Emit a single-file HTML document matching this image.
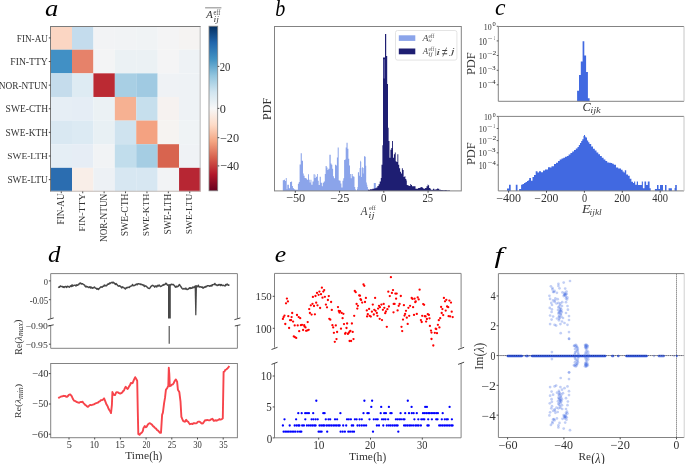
<!DOCTYPE html><html><head><meta charset="utf-8"><style>html,body{margin:0;padding:0;background:#fff;}svg{display:block;will-change:transform;}</style></head><body><svg width="685" height="464" viewBox="0 0 685 464" font-family='"Liberation Serif", serif'><g id="gfx"><rect x="50.6" y="26.1" width="21.46" height="23.67" fill="#fbd6c3" />
<rect x="72.01" y="26.1" width="21.46" height="23.67" fill="#c4dced" />
<rect x="93.42" y="26.1" width="21.46" height="23.67" fill="#f2f3f5" />
<rect x="114.83" y="26.1" width="21.46" height="23.67" fill="#f1f3f5" />
<rect x="136.24" y="26.1" width="21.46" height="23.67" fill="#f0f3f5" />
<rect x="157.65" y="26.1" width="21.46" height="23.67" fill="#f4f4f5" />
<rect x="179.06" y="26.1" width="21.46" height="23.67" fill="#f5f3f2" />
<rect x="50.6" y="49.72" width="21.46" height="23.67" fill="#4190c5" />
<rect x="72.01" y="49.72" width="21.46" height="23.67" fill="#e6826a" />
<rect x="93.42" y="49.72" width="21.46" height="23.67" fill="#f3f4f5" />
<rect x="114.83" y="49.72" width="21.46" height="23.67" fill="#ebf1f4" />
<rect x="136.24" y="49.72" width="21.46" height="23.67" fill="#ebf1f4" />
<rect x="157.65" y="49.72" width="21.46" height="23.67" fill="#f4f4f5" />
<rect x="179.06" y="49.72" width="21.46" height="23.67" fill="#eef2f5" />
<rect x="50.6" y="73.34" width="21.46" height="23.67" fill="#c5dcec" />
<rect x="72.01" y="73.34" width="21.46" height="23.67" fill="#deebf3" />
<rect x="93.42" y="73.34" width="21.46" height="23.67" fill="#bb2a33" />
<rect x="114.83" y="73.34" width="21.46" height="23.67" fill="#a8cfe4" />
<rect x="136.24" y="73.34" width="21.46" height="23.67" fill="#a0cae2" />
<rect x="157.65" y="73.34" width="21.46" height="23.67" fill="#eff2f5" />
<rect x="179.06" y="73.34" width="21.46" height="23.67" fill="#eef2f5" />
<rect x="50.6" y="96.96" width="21.46" height="23.67" fill="#e6eef5" />
<rect x="72.01" y="96.96" width="21.46" height="23.67" fill="#e5edf5" />
<rect x="93.42" y="96.96" width="21.46" height="23.67" fill="#ebf1f4" />
<rect x="114.83" y="96.96" width="21.46" height="23.67" fill="#f6b192" />
<rect x="136.24" y="96.96" width="21.46" height="23.67" fill="#c6dfed" />
<rect x="157.65" y="96.96" width="21.46" height="23.67" fill="#f6f2f0" />
<rect x="179.06" y="96.96" width="21.46" height="23.67" fill="#eef2f5" />
<rect x="50.6" y="120.58" width="21.46" height="23.67" fill="#d9e8f2" />
<rect x="72.01" y="120.58" width="21.46" height="23.67" fill="#dceaf3" />
<rect x="93.42" y="120.58" width="21.46" height="23.67" fill="#e8f0f4" />
<rect x="114.83" y="120.58" width="21.46" height="23.67" fill="#cfe3ef" />
<rect x="136.24" y="120.58" width="21.46" height="23.67" fill="#f4a281" />
<rect x="157.65" y="120.58" width="21.46" height="23.67" fill="#f6f3f1" />
<rect x="179.06" y="120.58" width="21.46" height="23.67" fill="#eff3f5" />
<rect x="50.6" y="144.2" width="21.46" height="23.67" fill="#e5eef5" />
<rect x="72.01" y="144.2" width="21.46" height="23.67" fill="#e6edf5" />
<rect x="93.42" y="144.2" width="21.46" height="23.67" fill="#f1f3f5" />
<rect x="114.83" y="144.2" width="21.46" height="23.67" fill="#c1ddec" />
<rect x="136.24" y="144.2" width="21.46" height="23.67" fill="#a5cde3" />
<rect x="157.65" y="144.2" width="21.46" height="23.67" fill="#d8644f" />
<rect x="179.06" y="144.2" width="21.46" height="23.67" fill="#eff2f5" />
<rect x="50.6" y="167.82" width="21.46" height="23.67" fill="#2b6db0" />
<rect x="72.01" y="167.82" width="21.46" height="23.67" fill="#f9eee8" />
<rect x="93.42" y="167.82" width="21.46" height="23.67" fill="#edf1f5" />
<rect x="114.83" y="167.82" width="21.46" height="23.67" fill="#d7e7f2" />
<rect x="136.24" y="167.82" width="21.46" height="23.67" fill="#d7e7f2" />
<rect x="157.65" y="167.82" width="21.46" height="23.67" fill="#f2f3f5" />
<rect x="179.06" y="167.82" width="21.46" height="23.67" fill="#b72633" />
<line x1="200.17" y1="26" x2="200.17" y2="191.44" stroke="#bdbdbd" stroke-width="1" />
<line x1="50.5" y1="191.24" x2="200.47" y2="191.24" stroke="#c4bcb8" stroke-width="1" />
<line x1="50" y1="26.5" x2="200.47" y2="26.5" stroke="#7b7b7b" stroke-width="1" />
<line x1="50.5" y1="26" x2="50.5" y2="191.44" stroke="#7b7b7b" stroke-width="1" />
<line x1="48.8" y1="37.91" x2="50.6" y2="37.91" stroke="#3a3a3a" stroke-width="0.9" />
<line x1="48.8" y1="61.53" x2="50.6" y2="61.53" stroke="#3a3a3a" stroke-width="0.9" />
<line x1="48.8" y1="85.15" x2="50.6" y2="85.15" stroke="#3a3a3a" stroke-width="0.9" />
<line x1="48.8" y1="108.77" x2="50.6" y2="108.77" stroke="#3a3a3a" stroke-width="0.9" />
<line x1="48.8" y1="132.39" x2="50.6" y2="132.39" stroke="#3a3a3a" stroke-width="0.9" />
<line x1="48.8" y1="156.01" x2="50.6" y2="156.01" stroke="#3a3a3a" stroke-width="0.9" />
<line x1="48.8" y1="179.63" x2="50.6" y2="179.63" stroke="#3a3a3a" stroke-width="0.9" />
<line x1="61.3" y1="191.44" x2="61.3" y2="193.24" stroke="#3a3a3a" stroke-width="0.9" />
<line x1="82.72" y1="191.44" x2="82.72" y2="193.24" stroke="#3a3a3a" stroke-width="0.9" />
<line x1="104.12" y1="191.44" x2="104.12" y2="193.24" stroke="#3a3a3a" stroke-width="0.9" />
<line x1="125.53" y1="191.44" x2="125.53" y2="193.24" stroke="#3a3a3a" stroke-width="0.9" />
<line x1="146.94" y1="191.44" x2="146.94" y2="193.24" stroke="#3a3a3a" stroke-width="0.9" />
<line x1="168.35" y1="191.44" x2="168.35" y2="193.24" stroke="#3a3a3a" stroke-width="0.9" />
<line x1="189.76" y1="191.44" x2="189.76" y2="193.24" stroke="#3a3a3a" stroke-width="0.9" />
<defs><linearGradient id="rdbu" x1="0" y1="0" x2="0" y2="1"><stop offset="0.0" stop-color="#053061"/><stop offset="0.1" stop-color="#2166ac"/><stop offset="0.2" stop-color="#4393c3"/><stop offset="0.3" stop-color="#92c5de"/><stop offset="0.4" stop-color="#d1e5f0"/><stop offset="0.5" stop-color="#f7f7f7"/><stop offset="0.6" stop-color="#fddbc7"/><stop offset="0.7" stop-color="#f4a582"/><stop offset="0.8" stop-color="#d6604d"/><stop offset="0.9" stop-color="#b2182b"/><stop offset="1.0" stop-color="#67001f"/></linearGradient></defs>
<rect x="209" y="26.2" width="8.7" height="164.6" fill="url(#rdbu)" />
<rect x="209" y="26.2" width="8.7" height="164.6" fill="none" stroke="#838383" stroke-width="0.8"/>
<line x1="217.7" y1="66.4" x2="219.3" y2="66.4" stroke="#3a3a3a" stroke-width="0.9" />
<line x1="217.7" y1="108.4" x2="219.3" y2="108.4" stroke="#3a3a3a" stroke-width="0.9" />
<line x1="217.7" y1="137.7" x2="219.3" y2="137.7" stroke="#3a3a3a" stroke-width="0.9" />
<line x1="217.7" y1="165.9" x2="219.3" y2="165.9" stroke="#3a3a3a" stroke-width="0.9" />
<line x1="205.1" y1="7.8" x2="221.4" y2="7.8" stroke="#9a9a9a" stroke-width="1.2" />
<path d="M282.8,190.9 L282.8,180.3 L283.9,180.3 L283.9,179.8 L285,179.8 L285,180.9 L285.8,180.9 L285.8,178.1 L286.7,178.1 L286.7,189.3 L287.3,189.3 L287.3,184.8 L288.9,184.8 L288.9,188.2 L290,188.2 L290,182 L291.2,182 L291.2,181.4 L292.1,181.4 L292.1,185.9 L292.9,185.9 L292.9,188.2 L294,188.2 L294,189.3 L295.1,189.3 L295.1,189.8 L297.9,189.8 L297.9,183.7 L298.8,183.7 L298.8,182 L299.6,182 L299.6,164.6 L300.7,164.6 L300.7,153.2 L301.8,153.2 L301.8,160.7 L303,160.7 L303,173.6 L303.7,173.6 L303.7,175.8 L304.6,175.8 L304.6,178.1 L305.8,178.1 L305.8,178.6 L306.9,178.6 L306.9,179.8 L308,179.8 L308,174.2 L308.9,174.2 L308.9,179.8 L309.7,179.8 L309.7,182.6 L310.5,182.6 L310.5,179.8 L311.4,179.8 L311.4,184.8 L312.5,184.8 L312.5,181.4 L313.6,181.4 L313.6,174.2 L314.7,174.2 L314.7,178.1 L315.6,178.1 L315.6,174.7 L316,174.7 L316,176.8 L317.1,176.8 L317.1,174.1 L317.9,174.1 L317.9,180.8 L318.7,180.8 L318.7,184.9 L319.7,184.9 L319.7,176.8 L320.8,176.8 L320.8,182.8 L321.9,182.8 L321.9,186.2 L322.7,186.2 L322.7,182.8 L323.8,182.8 L323.8,181.5 L324.8,181.5 L324.8,174.1 L325.6,174.1 L325.6,166.1 L326.7,166.1 L326.7,167.5 L327.5,167.5 L327.5,170.1 L328.3,170.1 L328.3,168.8 L329.4,168.8 L329.4,154.7 L330.7,154.7 L330.7,163.4 L331.5,163.4 L331.5,164.8 L332.3,164.8 L332.3,168.8 L333.1,168.8 L333.1,176.2 L333.9,176.2 L333.9,178.2 L335,178.2 L335,164.8 L336.1,164.8 L336.1,165.5 L336.9,165.5 L336.9,157.4 L337.7,157.4 L337.7,147.4 L338.7,147.4 L338.7,180.2 L339.5,180.2 L339.5,180.8 L340.6,180.8 L340.6,183.5 L341.4,183.5 L341.4,187.5 L342.5,187.5 L342.5,180.8 L343.3,180.8 L343.3,178.2 L344.1,178.2 L344.1,160.1 L344.9,160.1 L344.9,159.4 L345.7,159.4 L345.7,147.4 L346.5,147.4 L346.5,142.7 L347.6,142.7 L347.6,148.7 L348.4,148.7 L348.4,158.8 L349.2,158.8 L349.2,165.5 L350,165.5 L350,174.1 L350.8,174.1 L350.8,178.2 L351.6,178.2 L351.6,174.1 L352.7,174.1 L352.7,176.2 L353.7,176.2 L353.7,176.8 L354.5,176.8 L354.5,187 L355.2,187 L355.2,189.3 L355.8,189.3 L355.8,190.4 L357,190.4 L357,189 L357.4,189 L357.4,187 L357.9,187 L357.9,172.5 L358.5,172.5 L358.5,171.9 L359,171.9 L359,175.8 L359.6,175.8 L359.6,168 L360.1,168 L360.1,160.7 L360.7,160.7 L360.7,161.8 L361.2,161.8 L361.2,177 L361.8,177 L361.8,168 L362.3,168 L362.3,166.9 L362.9,166.9 L362.9,173.6 L363.4,173.6 L363.4,168 L364,168 L364,156.2 L364.6,156.2 L364.6,156.2 L365.1,156.2 L365.1,156.8 L365.7,156.8 L365.7,165.8 L366.2,165.8 L366.2,182.6 L366.8,182.6 L366.8,184.8 L367.3,184.8 L367.3,187 L367.9,187 L367.9,189.3 L368.5,189.3 L368.5,190.4 L373.8,190.4 L373.8,183.1 L375,183.1 L375,183.1 L375.8,183.1 L375.8,190.4 L376.6,190.4 L376.6,190.9 Z" fill="#8ba4ea"/>
<path d="M367.9,190.9 L367.9,189.8 L370,189.8 L370,189.3 L372.4,189.3 L372.4,188.7 L374.5,188.7 L374.5,188.2 L376.3,188.2 L376.3,187.6 L377.4,187.6 L377.4,185.9 L378.6,185.9 L378.6,184.2 L379.7,184.2 L379.7,181.4 L380.8,181.4 L380.8,178.1 L381.5,178.1 L381.5,164.8 L382.4,164.8 L382.4,145.3 L383,145.3 L383,57.6 L385,57.6 L385,34.1 L386.2,34.1 L386.2,55.9 L387.2,55.9 L387.2,84 L388,84 L388,127.7 L388.6,127.7 L388.6,140.9 L389.5,140.9 L389.5,157.7 L390.4,157.7 L390.4,149.8 L391.3,149.8 L391.3,148 L392.1,148 L392.1,140.9 L393,140.9 L393,157.7 L393.9,157.7 L393.9,154.2 L394.8,154.2 L394.8,152.4 L395.7,152.4 L395.7,161.2 L396.5,161.2 L396.5,162 L397.4,162 L397.4,154.2 L398.3,154.2 L398.3,164.8 L399.2,164.8 L399.2,168.3 L400.1,168.3 L400.1,171.8 L401,171.8 L401,173.6 L401.9,173.6 L401.9,168.3 L402.8,168.3 L402.8,170 L403.6,170 L403.6,177.1 L404.5,177.1 L404.5,176.3 L405.4,176.3 L405.4,178.9 L406.3,178.9 L406.3,180.5 L406.8,180.5 L406.8,184.9 L407.6,184.9 L407.6,185.3 L408.5,185.3 L408.5,185.8 L409.4,185.8 L409.4,186 L410.3,186 L410.3,184 L411.1,184 L411.1,184.9 L412,184.9 L412,186.2 L414.7,186.2 L414.7,186.2 L415.5,186.2 L415.5,188.8 L418.1,188.8 L418.1,188 L419.9,188 L419.9,187.5 L421.2,187.5 L421.2,187.1 L422.5,187.1 L422.5,188 L423.4,188 L423.4,188.8 L425.1,188.8 L425.1,188 L426.5,188 L426.5,186.2 L427.6,186.2 L427.6,184.4 L428.2,184.4 L428.2,185.3 L429.1,185.3 L429.1,188 L430.4,188 L430.4,189.3 L431.3,189.3 L431.3,190.1 L432.1,190.1 L432.1,189.7 L433,189.7 L433,188.8 L434.3,188.8 L434.3,189.7 L435.6,189.7 L435.6,189.3 L437,189.3 L437,188.4 L437.8,188.4 L437.8,188.8 L439.2,188.8 L439.2,189.7 L440.9,189.7 L440.9,190.1 L442.7,190.1 L442.7,190.3 L445.3,190.3 L445.3,190 L446.6,190 L446.6,190.6 L448.8,190.6 L448.8,190.3 L449.7,190.3 L449.7,190.9 L450.5,190.9 L450.5,190.9 Z" fill="#1e1e72"/>
<rect x="383.6" y="59.2" width="1.1" height="19.3" fill="#8a8ac8" fill-opacity="0.75"/>
<rect x="274.5" y="26.5" width="186.8" height="164.4" fill="none" stroke="#838383" stroke-width="1"/>
<line x1="295.3" y1="190.9" x2="295.3" y2="192.7" stroke="#3a3a3a" stroke-width="0.9" />
<line x1="339.55" y1="190.9" x2="339.55" y2="192.7" stroke="#3a3a3a" stroke-width="0.9" />
<line x1="383.8" y1="190.9" x2="383.8" y2="192.7" stroke="#3a3a3a" stroke-width="0.9" />
<line x1="428.05" y1="190.9" x2="428.05" y2="192.7" stroke="#3a3a3a" stroke-width="0.9" />
<rect x="395.5" y="30.5" width="61.4" height="29.6" rx="2" ry="2" fill="#ffffff" fill-opacity="0.8" stroke="#dddddd" stroke-width="0.8"/>
<rect x="398.8" y="35.3" width="16.5" height="5.6" fill="#8ba4ea" />
<rect x="398.8" y="48.5" width="16.5" height="5.8" fill="#1e1e72" />
<path d="M577.1,101.3 L577.1,90.8 L579,90.8 L579,75 L580.8,75 L580.8,61.4 L582.6,61.4 L582.6,41.3 L584.3,41.3 L584.3,55.4 L586.1,55.4 L586.1,72 L587.9,72 L587.9,98.3 L589.6,98.3 L589.6,101.3 Z" fill="#4169e1"/>
<line x1="498.3" y1="26.5" x2="684" y2="26.5" stroke="#838383" stroke-width="1" />
<line x1="498.3" y1="26.5" x2="498.3" y2="101.3" stroke="#838383" stroke-width="1" />
<line x1="498.3" y1="101.3" x2="684" y2="101.3" stroke="#838383" stroke-width="1" />
<line x1="684" y1="26.5" x2="684" y2="101.3" stroke="#c6c6c6" stroke-width="1" />
<path d=" M507,190.9 L507,188.5 L509,188.5 L509,184.8 L510.7,184.8 L510.7,190.9 Z M515.8,190.9 L515.8,184.8 L517.5,184.8 L517.5,190.9 Z M519.1,190.9 L519.1,188.9 L521.1,188.9 L521.1,184.8 L522.5,184.8 L522.5,184 L524,184 L524,183 L525.5,183 L525.5,182 L527,182 L527,181 L528.5,181 L528.5,180 L529.2,180 L529.2,178 L531,178 L531,180.8 L532.5,180.8 L532.5,177 L534,177 L534,174.9 L535.7,174.9 L535.7,171.3 L537.5,171.3 L537.5,172.6 L539,172.6 L539,171.3 L541,171.3 L541,172.2 L543,172.2 L543,170.4 L545,170.4 L545,169.5 L548,169.5 L548,167.2 L550,167.2 L550,167.6 L551.5,167.6 L551.5,166.3 L554,166.3 L554,164 L556,164 L556,162.7 L558,162.7 L558,160.9 L559.7,160.9 L559.7,159.5 L561.5,159.5 L561.5,158.5 L563.3,158.5 L563.3,157.7 L565,157.7 L565,156.8 L566.9,156.8 L566.9,155.9 L568.6,155.9 L568.6,154.5 L570.4,154.5 L570.4,153 L572.2,153 L572.2,151.5 L574,151.5 L574,150 L575.8,150 L575.8,148.5 L577.5,148.5 L577.5,147 L578.8,147 L578.8,145 L580,145 L580,142.9 L581.2,142.9 L581.2,141 L582.3,141 L582.3,139.3 L583.5,139.3 L583.5,136.1 L584,136.1 L584,134.9 L585,134.9 L585,136.5 L585.6,136.5 L585.6,137.5 L587,137.5 L587,140.5 L588.2,140.5 L588.2,142.3 L589.4,142.3 L589.4,144 L591.2,144 L591.2,146.4 L593,146.4 L593,148.8 L594.8,148.8 L594.8,150.6 L596.5,150.6 L596.5,152.4 L598.3,152.4 L598.3,154.2 L600,154.2 L600,155.9 L601.8,155.9 L601.8,157.7 L603.6,157.7 L603.6,159.5 L605.4,159.5 L605.4,161 L607.2,161 L607.2,162.4 L609,162.4 L609,162.7 L610.8,162.7 L610.8,163 L612.2,163 L612.2,163.7 L613.8,163.7 L613.8,164.8 L616,164.8 L616,167.5 L618.2,167.5 L618.2,168.6 L621,168.6 L621,169.7 L622.6,169.7 L622.6,171.4 L623.7,171.4 L623.7,172.5 L624.8,172.5 L624.8,170.3 L626.2,170.3 L626.2,174.6 L628,174.6 L628,175.7 L629.7,175.7 L629.7,178.7 L631.4,178.7 L631.4,181.8 L633,181.8 L633,182.9 L634.1,182.9 L634.1,181.4 L635.2,181.4 L635.2,184.8 L636.8,184.8 L636.8,181.4 L638,181.4 L638,185 L641.8,185 L641.8,181.4 L642.9,181.4 L642.9,188.3 L644.5,188.3 L644.5,181.4 L646.1,181.4 L646.1,185 L647.8,185 L647.8,181.4 L649.6,181.4 L649.6,188.3 L650.7,188.3 L650.7,190.9 Z M654.9,190.9 L654.9,188.9 L657,188.9 L657,185 L658.5,185 L658.5,188.9 L660,188.9 L660,185 L663,185 L663,190.9 Z M665,190.9 L665,185 L666.5,185 L666.5,190.9 Z M668.6,190.9 L668.6,188.3 L671.9,188.3 L671.9,190.9 Z M674.6,190.9 L674.6,188 L675.2,188 L675.2,185 L676.8,185 L676.8,190.9 Z" fill="#4169e1"/>
<line x1="498.3" y1="116.4" x2="684" y2="116.4" stroke="#838383" stroke-width="1" />
<line x1="498.3" y1="116.4" x2="498.3" y2="190.9" stroke="#838383" stroke-width="1" />
<line x1="498.3" y1="190.9" x2="684" y2="190.9" stroke="#838383" stroke-width="1" />
<line x1="684" y1="116.4" x2="684" y2="190.9" stroke="#c6c6c6" stroke-width="1" />
<line x1="496.7" y1="26.3" x2="498.3" y2="26.3" stroke="#3a3a3a" stroke-width="0.8" />
<line x1="496.7" y1="40.9" x2="498.3" y2="40.9" stroke="#3a3a3a" stroke-width="0.8" />
<line x1="496.7" y1="55.5" x2="498.3" y2="55.5" stroke="#3a3a3a" stroke-width="0.8" />
<line x1="496.7" y1="70.3" x2="498.3" y2="70.3" stroke="#3a3a3a" stroke-width="0.8" />
<line x1="496.7" y1="84.8" x2="498.3" y2="84.8" stroke="#3a3a3a" stroke-width="0.8" />
<line x1="496.7" y1="116.4" x2="498.3" y2="116.4" stroke="#3a3a3a" stroke-width="0.8" />
<line x1="496.7" y1="128.5" x2="498.3" y2="128.5" stroke="#3a3a3a" stroke-width="0.8" />
<line x1="496.7" y1="140.6" x2="498.3" y2="140.6" stroke="#3a3a3a" stroke-width="0.8" />
<line x1="496.7" y1="152.8" x2="498.3" y2="152.8" stroke="#3a3a3a" stroke-width="0.8" />
<line x1="496.7" y1="165" x2="498.3" y2="165" stroke="#3a3a3a" stroke-width="0.8" />
<line x1="508.6" y1="190.9" x2="508.6" y2="192.7" stroke="#3a3a3a" stroke-width="0.9" />
<line x1="546.5" y1="190.9" x2="546.5" y2="192.7" stroke="#3a3a3a" stroke-width="0.9" />
<line x1="584.4" y1="190.9" x2="584.4" y2="192.7" stroke="#3a3a3a" stroke-width="0.9" />
<line x1="622.3" y1="190.9" x2="622.3" y2="192.7" stroke="#3a3a3a" stroke-width="0.9" />
<line x1="660.2" y1="190.9" x2="660.2" y2="192.7" stroke="#3a3a3a" stroke-width="0.9" />
<line x1="50.7" y1="273.6" x2="237.4" y2="273.6" stroke="#838383" stroke-width="1" />
<line x1="50.7" y1="273.6" x2="50.7" y2="318.5" stroke="#838383" stroke-width="1" />
<line x1="237.4" y1="273.6" x2="237.4" y2="318.5" stroke="#838383" stroke-width="1" />
<line x1="50.7" y1="325.4" x2="50.7" y2="348.3" stroke="#838383" stroke-width="1" />
<line x1="237.4" y1="325.4" x2="237.4" y2="348.3" stroke="#838383" stroke-width="1" />
<line x1="50.7" y1="348.3" x2="237.4" y2="348.3" stroke="#838383" stroke-width="1" />
<line x1="47.7" y1="319.7" x2="53.7" y2="317.9" stroke="#333" stroke-width="0.9" />
<line x1="48.1" y1="326" x2="53.7" y2="324.8" stroke="#333" stroke-width="0.9" />
<line x1="234.4" y1="319.7" x2="240.4" y2="317.9" stroke="#333" stroke-width="0.9" />
<line x1="234.8" y1="326" x2="240.4" y2="324.8" stroke="#333" stroke-width="0.9" />
<polyline points="58.3,287.64 58.95,286.95 59.6,287.28 60.25,285.98 60.9,286.25 61.7,286.5 62.5,286.54 63.07,287.31 63.63,286.71 64.2,287.4 64.8,286.65 65.4,286.49 66,286.79 66.7,287.36 67.4,286.27 68.1,286.38 68.73,286.82 69.37,287.14 70,286.42 70.7,285.88 71.4,286.48 72.1,284.82 72.73,286.17 73.37,285.45 74,285.37 74.67,285.19 75.33,285.35 76,285.97 76.55,284.85 77.1,285.27 77.65,285.18 78.2,284.61 78.8,284.55 79.4,283.49 80,283.16 80.6,283.06 81.27,283.95 81.95,283.74 82.62,283.75 83.3,284.33 83.95,284.73 84.6,285.1 85.25,286.44 85.9,286.9 86.53,286.28 87.17,286.84 87.8,286.84 88.47,287.46 89.13,287.34 89.8,286.78 90.37,288.02 90.93,286.93 91.5,287.58 92.3,288.29 93.1,287.58 93.77,287.88 94.43,287.01 95.1,287.75 95.67,288.26 96.23,288.34 96.8,289.16 97.6,288.62 98.4,289.49 99.2,288.54 100,287.72 101,286.73 101.67,287.14 102.33,287.13 103,286.26 103.63,286.28 104.27,285.11 104.9,285.8 105.57,285.49 106.23,285.77 106.9,285.28 107.57,284.18 108.23,284.03 108.9,284.15 109.53,283.02 110.17,283.51 110.8,282.9 111.47,282.56 112.13,282.21 112.8,283 113.37,282.34 113.93,282.82 114.5,283.34 115.3,284.41 116.1,283.57 116.67,284.42 117.25,284.87 117.83,285.68 118.4,285.88 118.98,286.25 119.55,285.67 120.12,286.17 120.7,286.39 121.28,287.45 121.85,287.84 122.42,286.9 123,287.21 123.58,287.57 124.15,287.85 124.72,288.5 125.3,288.93 125.87,288.18 126.43,287.52 127,287.88 127.8,287.35 128.6,287.2 129.23,287.45 129.87,286.72 130.5,286.12 131.17,285.98 131.83,285.76 132.5,284.53 133.12,285.7 133.75,285.42 134.38,285.46 135,285.25 135.56,284.58 136.12,284.53 136.68,284.03 137.24,284.76 137.8,283.84 138.53,283.82 139.27,284 140,283.89 140.57,284.43 141.13,284.26 141.7,284.45 142.25,284.81 142.8,284.87 143.35,285.4 143.9,285.02 144.45,286.43 145,286.17 145.67,285.87 146.33,286.43 147,286.97 147.8,287.85 148.6,288.33 149.4,288.47 150.2,287.74 151,286.35 151.8,285.78 152.38,285.35 152.97,285.54 153.55,286.06 154.13,286.11 154.72,287.13 155.3,286.29 155.98,285.83 156.65,286.98 157.32,286.09 158,285.27 158.6,285.86 159.2,285.09 159.8,285.84 160.4,286.52 161,286.34 161.6,286.09 162.2,285.44 162.78,285.23 163.37,284.57 163.95,285.11 164.53,284.38 165.12,284.39 165.7,283.34 166.37,283.45 167.03,284.6 167.7,285.13 168.6,285.13 169.23,285.06 169.87,285.08 170.5,284.96 171.2,284.22 171.9,284.69 172.6,284.48 173.16,284.41 173.72,284.83 174.28,285.63 174.84,286.02 175.4,287.09 175.99,287.23 176.57,286.21 177.16,286.68 177.74,286.5 178.33,286.2 178.91,285.05 179.5,284.58 180.2,285.66 180.9,286.68 181.6,287.76 182.18,288.47 182.76,288.96 183.34,288.95 183.92,288.49 184.5,288.83 185.18,289.12 185.85,288.13 186.52,289.07 187.2,289.51 187.79,289.17 188.37,288.96 188.96,288.4 189.54,287.79 190.13,288.55 190.71,287.71 191.3,288.25 191.94,288.31 192.58,287.24 193.22,287.05 193.86,287.67 194.5,287.14 195.1,286.16 195.7,285.94 196.3,285.83 196.9,286.81 197.6,286.46 198.3,285.27 198.89,286.58 199.47,287.09 200.06,286.89 200.64,286.72 201.23,287.3 201.81,286.96 202.4,287.07 203,288.26 203.6,287.54 204.2,287.11 204.8,287.48 205.4,286.49 206,286.9 206.6,286.59 207.19,285.67 207.77,285.73 208.36,285.79 208.94,285.71 209.53,286.23 210.11,285.74 210.7,285.98 211.3,285.19 211.9,286 212.5,284.81 213.1,284.61 213.7,284.44 214.3,284.56 214.9,283.48 215.6,284.83 216.3,284.8 217,285.45 217.6,285.39 218.2,284.58 218.8,285.16 219.4,284.72 220,284.41 220.6,285.55 221.2,284.56 221.8,284.96 222.36,285.5 222.92,285.4 223.48,285.22 224.04,285.67 224.6,285.88 225.16,285.95 225.72,284.65 226.28,285.05 226.84,284.3 227.4,284.07 228.1,285.14 228.8,285.08 229.5,285.4" fill="none" stroke="#474747" stroke-width="1.5" stroke-linejoin="round"/>
<polygon points="168.0,284.5 170.8,284.5 170.8,318.5 168.0,318.5" fill="#474747"/>
<polygon points="194.6,286.0 197.0,286.0 196.4,315.2 195.2,315.2" fill="#474747"/>
<line x1="169.2" y1="326" x2="169.2" y2="343.8" stroke="#474747" stroke-width="1.1" />
<line x1="48.9" y1="280.9" x2="50.7" y2="280.9" stroke="#3a3a3a" stroke-width="0.9" />
<line x1="48.9" y1="299.7" x2="50.7" y2="299.7" stroke="#3a3a3a" stroke-width="0.9" />
<line x1="48.9" y1="325.6" x2="50.7" y2="325.6" stroke="#3a3a3a" stroke-width="0.9" />
<line x1="48.9" y1="344.2" x2="50.7" y2="344.2" stroke="#3a3a3a" stroke-width="0.9" />
<rect x="50.7" y="363.5" width="186.7" height="74.2" fill="none" stroke="#838383" stroke-width="1"/>
<polyline points="58.3,398.16 59.25,397.45 60.2,396.98 61.07,396.44 61.93,396.34 62.8,396.28 63.63,395.82 64.47,396.01 65.3,396.02 66.2,396.81 67.1,396.83 67.95,396.07 68.8,394.93 70.2,394.38 71.7,396.07 73.1,399.29 73.95,400.53 74.8,400.92 75.7,401.34 76.6,402 77.45,402.19 78.3,402.66 79.17,402.83 80.03,402.1 80.9,401.92 81.75,401.97 82.6,401.78 83.45,403.07 84.3,403.95 85.15,404.96 86,405.32 86.9,406.23 87.8,406.9 88.65,406.25 89.5,405.26 90.37,404.83 91.23,405.21 92.1,404.95 92.97,404.64 93.83,404.35 94.7,403.83 95.53,403.46 96.37,403.21 97.2,402.71 98.07,402.64 98.93,401.61 99.8,401.31 100.85,400.25 101.9,400.11 103,399.56 104.1,398.35 105.5,401.94 106.55,404.57 107.6,406.17 108.45,408.53 109.3,409.91 110.15,411.17 111,413.1 111.9,404.8 112.4,392.02 113.6,394.75 115,395.09 116.2,392.43 117.05,392.2 117.9,392.32 119.05,393.18 120.2,393.66 121.2,393.17 122.2,392.44 123.1,391.1 124,390.47 124.85,388.16 125.7,386.75 126.55,387.95 127.4,389.02 128.25,388.21 129.1,386.37 130,385.13 130.9,382.95 131.75,383.23 132.6,383.04 134,379.59 135.2,377.12 136.4,379.27 137.2,380.7 137.8,411.7 138.3,433.92 139.5,434.85 140.35,433.64 141.2,433.2 142.05,432.32 142.9,430.7 143.4,428.23 144.8,426.04 145.7,427.24 146.6,426.94 147.45,425.28 148.3,424.05 149.15,423.45 150,423.22 151.05,423.92 152.1,424.83 152.97,426.07 153.83,426.57 154.7,427.69 155.53,428.22 156.37,429.02 157.2,430.21 158.07,430.65 158.93,431.6 159.8,432.73 161,432.8 162.1,414.91 162.9,412.6 164.1,403.1 165,397.9 165.9,389.89 167.2,387.97 168.3,385.9 168.8,367.8 169.3,373.8 169.8,386.19 171,385.67 171.9,384.72 172.8,384.32 173.65,383.25 174.5,381.33 175.9,379.41 177.1,381.6 177.9,389.64 179.3,391.9 180.5,401.4 181.4,416.99 182.25,418.98 183.1,420.84 184.5,421.68 185.35,421.47 186.2,419.76 187.25,421.23 188.3,421.88 189.15,423.39 190,424.19 190.85,423.91 191.7,423.81 192.57,424.06 193.43,423.25 194.3,423.16 195.17,423.29 196.03,423.38 196.9,423 197.75,421.85 198.6,421.58 199.47,421.67 200.33,422.23 201.2,423.19 202.05,423.55 202.9,423.4 204.05,421.76 205.2,420.18 206.17,420.36 207.13,419.97 208.1,420.18 208.97,420.39 209.83,420.2 210.7,419.64 211.55,419.22 212.4,418.68 213.8,420.88 214.85,420.53 215.9,420.27 216.73,420.67 217.57,420.08 218.4,419.92 219.27,419.07 220.13,419.62 221,419.48 221.9,419.11 222.8,418.3 223.6,371.94 224.45,371.65 225.3,369.92 226.2,369.49 227.1,368.81 228.2,367.66 229.3,366" fill="none" stroke="#f7444b" stroke-width="1.9" stroke-linejoin="round"/>
<line x1="48.9" y1="373.6" x2="50.7" y2="373.6" stroke="#3a3a3a" stroke-width="0.9" />
<line x1="48.9" y1="404" x2="50.7" y2="404" stroke="#3a3a3a" stroke-width="0.9" />
<line x1="48.9" y1="434.2" x2="50.7" y2="434.2" stroke="#3a3a3a" stroke-width="0.9" />
<line x1="69" y1="437.7" x2="69" y2="439.5" stroke="#3a3a3a" stroke-width="0.9" />
<line x1="94.7" y1="437.7" x2="94.7" y2="439.5" stroke="#3a3a3a" stroke-width="0.9" />
<line x1="120.4" y1="437.7" x2="120.4" y2="439.5" stroke="#3a3a3a" stroke-width="0.9" />
<line x1="146.1" y1="437.7" x2="146.1" y2="439.5" stroke="#3a3a3a" stroke-width="0.9" />
<line x1="171.8" y1="437.7" x2="171.8" y2="439.5" stroke="#3a3a3a" stroke-width="0.9" />
<line x1="197.5" y1="437.7" x2="197.5" y2="439.5" stroke="#3a3a3a" stroke-width="0.9" />
<line x1="223.2" y1="437.7" x2="223.2" y2="439.5" stroke="#3a3a3a" stroke-width="0.9" />
<line x1="274.5" y1="273.4" x2="461.1" y2="273.4" stroke="#838383" stroke-width="1" />
<line x1="274.5" y1="273.4" x2="274.5" y2="347.6" stroke="#838383" stroke-width="1" />
<line x1="461.1" y1="273.4" x2="461.1" y2="347.6" stroke="#838383" stroke-width="1" />
<line x1="274.5" y1="363.3" x2="274.5" y2="437.8" stroke="#838383" stroke-width="1" />
<line x1="461.1" y1="363.3" x2="461.1" y2="437.8" stroke="#838383" stroke-width="1" />
<line x1="274.5" y1="437.8" x2="461.1" y2="437.8" stroke="#838383" stroke-width="1" />
<line x1="271.5" y1="349.5" x2="277.5" y2="347.3" stroke="#333" stroke-width="0.9" />
<line x1="271.5" y1="364.4" x2="277.5" y2="362.2" stroke="#333" stroke-width="0.9" />
<line x1="458.1" y1="349.5" x2="464.1" y2="347.3" stroke="#333" stroke-width="0.9" />
<line x1="458.1" y1="364.4" x2="464.1" y2="362.2" stroke="#333" stroke-width="0.9" />
<g fill="#ff0000"><circle cx="286.9" cy="298.6" r="1.15"/><circle cx="287.9" cy="301.4" r="1.15"/><circle cx="286" cy="303.3" r="1.15"/><circle cx="317" cy="292.9" r="1.15"/><circle cx="315.5" cy="296" r="1.15"/><circle cx="312.9" cy="296.9" r="1.15"/><circle cx="316.2" cy="302.7" r="1.15"/><circle cx="312.5" cy="303.8" r="1.15"/><circle cx="310.8" cy="305.3" r="1.15"/><circle cx="314" cy="306" r="1.15"/><circle cx="317.5" cy="305.3" r="1.15"/><circle cx="309.2" cy="309.1" r="1.15"/><circle cx="292.2" cy="313" r="1.15"/><circle cx="309.9" cy="313" r="1.15"/><circle cx="311.6" cy="314.6" r="1.15"/><circle cx="314.9" cy="314.3" r="1.15"/><circle cx="284.5" cy="315.6" r="1.15"/><circle cx="283.6" cy="317.1" r="1.15"/><circle cx="282.9" cy="318.9" r="1.15"/><circle cx="288.3" cy="316.2" r="1.15"/><circle cx="291.6" cy="317.1" r="1.15"/><circle cx="297" cy="315" r="1.15"/><circle cx="298.7" cy="317.1" r="1.15"/><circle cx="300.2" cy="318.2" r="1.15"/><circle cx="290.1" cy="320.2" r="1.15"/><circle cx="291.1" cy="320.2" r="1.15"/><circle cx="293.1" cy="321.6" r="1.15"/><circle cx="307.7" cy="322.1" r="1.15"/><circle cx="285.3" cy="324" r="1.15"/><circle cx="289.1" cy="328" r="1.15"/><circle cx="294.7" cy="325.4" r="1.15"/><circle cx="297.7" cy="325.4" r="1.15"/><circle cx="300.9" cy="325.2" r="1.15"/><circle cx="302" cy="324.8" r="1.15"/><circle cx="304.2" cy="325.2" r="1.15"/><circle cx="304.5" cy="326.4" r="1.15"/><circle cx="305.5" cy="327.4" r="1.15"/><circle cx="299.2" cy="331.2" r="1.15"/><circle cx="303.1" cy="330" r="1.15"/><circle cx="306.1" cy="330.8" r="1.15"/><circle cx="307.4" cy="330.4" r="1.15"/><circle cx="308.7" cy="329.8" r="1.15"/><circle cx="293.8" cy="336.4" r="1.15"/><circle cx="294.9" cy="337.1" r="1.15"/><circle cx="296.2" cy="337.9" r="1.15"/><circle cx="321.9" cy="287.7" r="1.15"/><circle cx="324.2" cy="290.1" r="1.15"/><circle cx="323.3" cy="291.6" r="1.15"/><circle cx="319.4" cy="291.6" r="1.15"/><circle cx="321" cy="294.2" r="1.15"/><circle cx="318.6" cy="294.8" r="1.15"/><circle cx="328.8" cy="296.1" r="1.15"/><circle cx="324.9" cy="296.8" r="1.15"/><circle cx="322.5" cy="297.7" r="1.15"/><circle cx="327.9" cy="300" r="1.15"/><circle cx="331.1" cy="302" r="1.15"/><circle cx="325.9" cy="304.6" r="1.15"/><circle cx="327" cy="307.3" r="1.15"/><circle cx="320.1" cy="308" r="1.15"/><circle cx="331.8" cy="309.9" r="1.15"/><circle cx="338" cy="307.1" r="1.15"/><circle cx="338.8" cy="310.9" r="1.15"/><circle cx="340.1" cy="311.2" r="1.15"/><circle cx="339.4" cy="312.5" r="1.15"/><circle cx="341.7" cy="312.9" r="1.15"/><circle cx="343.4" cy="313.8" r="1.15"/><circle cx="354.2" cy="315.8" r="1.15"/><circle cx="354.8" cy="290.9" r="1.15"/><circle cx="355.7" cy="292.2" r="1.15"/><circle cx="329.3" cy="318.8" r="1.15"/><circle cx="330.3" cy="319.7" r="1.15"/><circle cx="342.6" cy="318.2" r="1.15"/><circle cx="332.4" cy="325.2" r="1.15"/><circle cx="335.8" cy="325.4" r="1.15"/><circle cx="333.2" cy="327.4" r="1.15"/><circle cx="344" cy="324.1" r="1.15"/><circle cx="347.1" cy="323.5" r="1.15"/><circle cx="351.9" cy="323.5" r="1.15"/><circle cx="341" cy="328.7" r="1.15"/><circle cx="346.5" cy="328" r="1.15"/><circle cx="333.9" cy="332.8" r="1.15"/><circle cx="337.1" cy="332" r="1.15"/><circle cx="345.1" cy="333.8" r="1.15"/><circle cx="345.6" cy="332.9" r="1.15"/><circle cx="347.9" cy="333.9" r="1.15"/><circle cx="348.8" cy="332.8" r="1.15"/><circle cx="349.6" cy="331.7" r="1.15"/><circle cx="350.4" cy="330.9" r="1.15"/><circle cx="352.7" cy="331.9" r="1.15"/><circle cx="336.5" cy="339.1" r="1.15"/><circle cx="334.8" cy="341.8" r="1.15"/><circle cx="349.6" cy="341" r="1.15"/><circle cx="351.1" cy="341" r="1.15"/><circle cx="353.5" cy="339.1" r="1.15"/><circle cx="390.9" cy="277.2" r="1.15"/><circle cx="363.5" cy="284.5" r="1.15"/><circle cx="364.3" cy="285.8" r="1.15"/><circle cx="388.3" cy="291.7" r="1.15"/><circle cx="393" cy="290.1" r="1.15"/><circle cx="391.9" cy="292.9" r="1.15"/><circle cx="389.8" cy="296.1" r="1.15"/><circle cx="359.2" cy="295.4" r="1.15"/><circle cx="360" cy="295.7" r="1.15"/><circle cx="365.9" cy="297.9" r="1.15"/><circle cx="375.1" cy="297.9" r="1.15"/><circle cx="360.5" cy="299.2" r="1.15"/><circle cx="361.1" cy="300" r="1.15"/><circle cx="362.2" cy="302.6" r="1.15"/><circle cx="365" cy="302" r="1.15"/><circle cx="356.6" cy="303.9" r="1.15"/><circle cx="357.9" cy="305.8" r="1.15"/><circle cx="357.3" cy="308.6" r="1.15"/><circle cx="372.8" cy="304.6" r="1.15"/><circle cx="379" cy="305.8" r="1.15"/><circle cx="381.4" cy="304.6" r="1.15"/><circle cx="383.7" cy="303.9" r="1.15"/><circle cx="379.9" cy="307.2" r="1.15"/><circle cx="378.1" cy="308.6" r="1.15"/><circle cx="384.3" cy="307.8" r="1.15"/><circle cx="382.9" cy="309.8" r="1.15"/><circle cx="388.9" cy="306.5" r="1.15"/><circle cx="387.4" cy="309.2" r="1.15"/><circle cx="369.1" cy="308.9" r="1.15"/><circle cx="366.8" cy="310.4" r="1.15"/><circle cx="374.3" cy="309.8" r="1.15"/><circle cx="375.6" cy="310.8" r="1.15"/><circle cx="371.9" cy="311.7" r="1.15"/><circle cx="385.9" cy="311.5" r="1.15"/><circle cx="393.7" cy="303.9" r="1.15"/><circle cx="376.8" cy="313" r="1.15"/><circle cx="385.2" cy="313.2" r="1.15"/><circle cx="393.5" cy="312.3" r="1.15"/><circle cx="367.8" cy="314.2" r="1.15"/><circle cx="367.1" cy="316.4" r="1.15"/><circle cx="369.7" cy="315.8" r="1.15"/><circle cx="370.8" cy="316.6" r="1.15"/><circle cx="373.8" cy="314.5" r="1.15"/><circle cx="377.4" cy="315.8" r="1.15"/><circle cx="379.7" cy="318.8" r="1.15"/><circle cx="382" cy="320.1" r="1.15"/><circle cx="386.8" cy="326.8" r="1.15"/><circle cx="395.4" cy="293.6" r="1.15"/><circle cx="396.7" cy="293.6" r="1.15"/><circle cx="400.8" cy="296" r="1.15"/><circle cx="396.1" cy="298.7" r="1.15"/><circle cx="419.6" cy="289.7" r="1.15"/><circle cx="411.7" cy="297.9" r="1.15"/><circle cx="412.5" cy="298.9" r="1.15"/><circle cx="414.6" cy="298.7" r="1.15"/><circle cx="417.7" cy="297.4" r="1.15"/><circle cx="418.7" cy="299.4" r="1.15"/><circle cx="415.7" cy="301.3" r="1.15"/><circle cx="415.3" cy="302.2" r="1.15"/><circle cx="394.6" cy="303.9" r="1.15"/><circle cx="399.6" cy="303.9" r="1.15"/><circle cx="398.7" cy="305.8" r="1.15"/><circle cx="403.9" cy="305.2" r="1.15"/><circle cx="410.1" cy="305.8" r="1.15"/><circle cx="408.4" cy="307.8" r="1.15"/><circle cx="413.1" cy="307.2" r="1.15"/><circle cx="423.2" cy="304.1" r="1.15"/><circle cx="424.1" cy="304.8" r="1.15"/><circle cx="397.6" cy="310.4" r="1.15"/><circle cx="406" cy="310.8" r="1.15"/><circle cx="405.1" cy="313.9" r="1.15"/><circle cx="404.5" cy="315.6" r="1.15"/><circle cx="409.2" cy="315.8" r="1.15"/><circle cx="406.8" cy="317.7" r="1.15"/><circle cx="403" cy="319.6" r="1.15"/><circle cx="414" cy="314.9" r="1.15"/><circle cx="416.8" cy="313.9" r="1.15"/><circle cx="422.2" cy="315.8" r="1.15"/><circle cx="424.8" cy="316.2" r="1.15"/><circle cx="425.6" cy="316.4" r="1.15"/><circle cx="427.8" cy="314.2" r="1.15"/><circle cx="428.9" cy="314.9" r="1.15"/><circle cx="426.9" cy="319" r="1.15"/><circle cx="429.5" cy="318.3" r="1.15"/><circle cx="420.9" cy="320.1" r="1.15"/><circle cx="421.7" cy="322" r="1.15"/><circle cx="426.1" cy="321.6" r="1.15"/><circle cx="407.7" cy="323.9" r="1.15"/><circle cx="401.5" cy="326.8" r="1.15"/><circle cx="402.2" cy="331.1" r="1.15"/><circle cx="429.9" cy="325.9" r="1.15"/><circle cx="431" cy="330.6" r="1.15"/><circle cx="431.5" cy="332.6" r="1.15"/><circle cx="431.5" cy="339" r="1.15"/><circle cx="443.9" cy="297.9" r="1.15"/><circle cx="446.3" cy="299.8" r="1.15"/><circle cx="445" cy="301.3" r="1.15"/><circle cx="449.4" cy="300.6" r="1.15"/><circle cx="451" cy="302.6" r="1.15"/><circle cx="441.1" cy="306.9" r="1.15"/><circle cx="442.4" cy="309.1" r="1.15"/><circle cx="447.1" cy="306.5" r="1.15"/><circle cx="448.2" cy="307.2" r="1.15"/><circle cx="445.7" cy="310.6" r="1.15"/><circle cx="451.7" cy="311.7" r="1.15"/><circle cx="441.7" cy="313" r="1.15"/><circle cx="443.2" cy="315.1" r="1.15"/><circle cx="448.6" cy="316.2" r="1.15"/><circle cx="450.1" cy="316.4" r="1.15"/><circle cx="452.7" cy="317.1" r="1.15"/><circle cx="440.2" cy="318.2" r="1.15"/><circle cx="438.8" cy="320.2" r="1.15"/><circle cx="437.9" cy="324.8" r="1.15"/><circle cx="439.4" cy="327.4" r="1.15"/><circle cx="435.7" cy="328.7" r="1.15"/><circle cx="436.3" cy="329.1" r="1.15"/><circle cx="434.8" cy="332.8" r="1.15"/><circle cx="437" cy="333.2" r="1.15"/><circle cx="433.3" cy="345.5" r="1.15"/></g>
<g fill="#0000ff"><circle cx="283.6" cy="431.71" r="1.15"/><circle cx="285.3" cy="431.71" r="1.15"/><circle cx="287" cy="431.71" r="1.15"/><circle cx="288.7" cy="431.71" r="1.15"/><circle cx="290.4" cy="431.71" r="1.15"/><circle cx="292.1" cy="431.71" r="1.15"/><circle cx="293.8" cy="431.71" r="1.15"/><circle cx="295.5" cy="431.71" r="1.15"/><circle cx="297.8" cy="431.71" r="1.15"/><circle cx="300" cy="431.71" r="1.15"/><circle cx="301.3" cy="431.71" r="1.15"/><circle cx="318.6" cy="431.71" r="1.15"/><circle cx="320.1" cy="431.71" r="1.15"/><circle cx="321.6" cy="431.71" r="1.15"/><circle cx="327.2" cy="431.71" r="1.15"/><circle cx="340.6" cy="431.71" r="1.15"/><circle cx="342.7" cy="431.71" r="1.15"/><circle cx="344.9" cy="431.71" r="1.15"/><circle cx="348.3" cy="431.71" r="1.15"/><circle cx="350.1" cy="431.71" r="1.15"/><circle cx="352.2" cy="431.71" r="1.15"/><circle cx="354" cy="431.71" r="1.15"/><circle cx="373" cy="431.71" r="1.15"/><circle cx="398.3" cy="431.71" r="1.15"/><circle cx="282.9" cy="425.52" r="1.15"/><circle cx="289.7" cy="425.52" r="1.15"/><circle cx="294.7" cy="425.52" r="1.15"/><circle cx="296.6" cy="425.52" r="1.15"/><circle cx="298.3" cy="425.52" r="1.15"/><circle cx="299.4" cy="425.52" r="1.15"/><circle cx="302.2" cy="425.52" r="1.15"/><circle cx="303.9" cy="425.52" r="1.15"/><circle cx="306.9" cy="425.52" r="1.15"/><circle cx="308.9" cy="425.52" r="1.15"/><circle cx="310.8" cy="425.52" r="1.15"/><circle cx="312.5" cy="425.52" r="1.15"/><circle cx="314.2" cy="425.52" r="1.15"/><circle cx="315.6" cy="425.52" r="1.15"/><circle cx="319.5" cy="425.52" r="1.15"/><circle cx="321.2" cy="425.52" r="1.15"/><circle cx="323" cy="425.52" r="1.15"/><circle cx="324.2" cy="425.52" r="1.15"/><circle cx="326.4" cy="425.52" r="1.15"/><circle cx="328.1" cy="425.52" r="1.15"/><circle cx="329.8" cy="425.52" r="1.15"/><circle cx="331.5" cy="425.52" r="1.15"/><circle cx="333.3" cy="425.52" r="1.15"/><circle cx="335" cy="425.52" r="1.15"/><circle cx="336.7" cy="425.52" r="1.15"/><circle cx="338.4" cy="425.52" r="1.15"/><circle cx="339.7" cy="425.52" r="1.15"/><circle cx="343.2" cy="425.52" r="1.15"/><circle cx="346.2" cy="425.52" r="1.15"/><circle cx="351.8" cy="425.52" r="1.15"/><circle cx="353.2" cy="425.52" r="1.15"/><circle cx="357.5" cy="425.52" r="1.15"/><circle cx="359.6" cy="425.52" r="1.15"/><circle cx="361.8" cy="425.52" r="1.15"/><circle cx="364" cy="425.52" r="1.15"/><circle cx="366.1" cy="425.52" r="1.15"/><circle cx="376.9" cy="425.52" r="1.15"/><circle cx="379" cy="425.52" r="1.15"/><circle cx="383.3" cy="425.52" r="1.15"/><circle cx="386.8" cy="425.52" r="1.15"/><circle cx="388.9" cy="425.52" r="1.15"/><circle cx="390.7" cy="425.52" r="1.15"/><circle cx="392.6" cy="425.52" r="1.15"/><circle cx="394.4" cy="425.52" r="1.15"/><circle cx="396.1" cy="425.52" r="1.15"/><circle cx="397.6" cy="425.52" r="1.15"/><circle cx="404.1" cy="425.52" r="1.15"/><circle cx="405.8" cy="425.52" r="1.15"/><circle cx="407.5" cy="425.52" r="1.15"/><circle cx="409.3" cy="425.52" r="1.15"/><circle cx="411" cy="425.52" r="1.15"/><circle cx="413.1" cy="425.52" r="1.15"/><circle cx="415.3" cy="425.52" r="1.15"/><circle cx="417" cy="425.52" r="1.15"/><circle cx="418.7" cy="425.52" r="1.15"/><circle cx="420.9" cy="425.52" r="1.15"/><circle cx="427.4" cy="425.52" r="1.15"/><circle cx="428.7" cy="425.52" r="1.15"/><circle cx="439.2" cy="425.52" r="1.15"/><circle cx="440.9" cy="425.52" r="1.15"/><circle cx="442.7" cy="425.52" r="1.15"/><circle cx="444.4" cy="425.52" r="1.15"/><circle cx="446.1" cy="425.52" r="1.15"/><circle cx="447.9" cy="425.52" r="1.15"/><circle cx="449.6" cy="425.52" r="1.15"/><circle cx="451.3" cy="425.52" r="1.15"/><circle cx="452.6" cy="425.52" r="1.15"/><circle cx="284.5" cy="419.33" r="1.15"/><circle cx="296.1" cy="419.33" r="1.15"/><circle cx="305.3" cy="419.33" r="1.15"/><circle cx="311.6" cy="419.33" r="1.15"/><circle cx="313.4" cy="419.33" r="1.15"/><circle cx="315.6" cy="419.33" r="1.15"/><circle cx="317.7" cy="419.33" r="1.15"/><circle cx="325.8" cy="419.33" r="1.15"/><circle cx="328.5" cy="419.33" r="1.15"/><circle cx="330.2" cy="419.33" r="1.15"/><circle cx="335" cy="419.33" r="1.15"/><circle cx="337.1" cy="419.33" r="1.15"/><circle cx="347" cy="419.33" r="1.15"/><circle cx="348.8" cy="419.33" r="1.15"/><circle cx="350.9" cy="419.33" r="1.15"/><circle cx="354.9" cy="419.33" r="1.15"/><circle cx="356.6" cy="419.33" r="1.15"/><circle cx="359.6" cy="419.33" r="1.15"/><circle cx="361.8" cy="419.33" r="1.15"/><circle cx="369.5" cy="419.33" r="1.15"/><circle cx="373.8" cy="419.33" r="1.15"/><circle cx="376" cy="419.33" r="1.15"/><circle cx="377.7" cy="419.33" r="1.15"/><circle cx="382" cy="419.33" r="1.15"/><circle cx="383.8" cy="419.33" r="1.15"/><circle cx="385.5" cy="419.33" r="1.15"/><circle cx="388.1" cy="419.33" r="1.15"/><circle cx="395.9" cy="419.33" r="1.15"/><circle cx="397.6" cy="419.33" r="1.15"/><circle cx="399.3" cy="419.33" r="1.15"/><circle cx="401" cy="419.33" r="1.15"/><circle cx="403.2" cy="419.33" r="1.15"/><circle cx="404.5" cy="419.33" r="1.15"/><circle cx="414.4" cy="419.33" r="1.15"/><circle cx="418.3" cy="419.33" r="1.15"/><circle cx="421.3" cy="419.33" r="1.15"/><circle cx="423" cy="419.33" r="1.15"/><circle cx="424.3" cy="419.33" r="1.15"/><circle cx="428.2" cy="419.33" r="1.15"/><circle cx="431.9" cy="419.33" r="1.15"/><circle cx="436.2" cy="419.33" r="1.15"/><circle cx="437.5" cy="419.33" r="1.15"/><circle cx="441.8" cy="419.33" r="1.15"/><circle cx="444.8" cy="419.33" r="1.15"/><circle cx="446.6" cy="419.33" r="1.15"/><circle cx="447.8" cy="419.33" r="1.15"/><circle cx="451.9" cy="419.33" r="1.15"/><circle cx="298.3" cy="413.14" r="1.15"/><circle cx="301.7" cy="413.14" r="1.15"/><circle cx="305.2" cy="413.14" r="1.15"/><circle cx="307" cy="413.14" r="1.15"/><circle cx="308.9" cy="413.14" r="1.15"/><circle cx="313.2" cy="413.14" r="1.15"/><circle cx="323.3" cy="413.14" r="1.15"/><circle cx="324.6" cy="413.14" r="1.15"/><circle cx="340.4" cy="413.14" r="1.15"/><circle cx="363.5" cy="413.14" r="1.15"/><circle cx="367.4" cy="413.14" r="1.15"/><circle cx="368.7" cy="413.14" r="1.15"/><circle cx="380.7" cy="413.14" r="1.15"/><circle cx="384.2" cy="413.14" r="1.15"/><circle cx="385.9" cy="413.14" r="1.15"/><circle cx="390.4" cy="413.14" r="1.15"/><circle cx="391.6" cy="413.14" r="1.15"/><circle cx="400.6" cy="413.14" r="1.15"/><circle cx="405.2" cy="413.14" r="1.15"/><circle cx="409" cy="413.14" r="1.15"/><circle cx="411.8" cy="413.14" r="1.15"/><circle cx="413.6" cy="413.14" r="1.15"/><circle cx="416.8" cy="413.14" r="1.15"/><circle cx="423" cy="413.14" r="1.15"/><circle cx="424.8" cy="413.14" r="1.15"/><circle cx="426.5" cy="413.14" r="1.15"/><circle cx="428.2" cy="413.14" r="1.15"/><circle cx="429.6" cy="413.14" r="1.15"/><circle cx="431.3" cy="413.14" r="1.15"/><circle cx="433" cy="413.14" r="1.15"/><circle cx="434.7" cy="413.14" r="1.15"/><circle cx="436.4" cy="413.14" r="1.15"/><circle cx="437.9" cy="413.14" r="1.15"/><circle cx="442.7" cy="413.14" r="1.15"/><circle cx="371.3" cy="406.95" r="1.15"/><circle cx="381.2" cy="406.95" r="1.15"/><circle cx="388.9" cy="406.95" r="1.15"/><circle cx="411.6" cy="406.95" r="1.15"/><circle cx="425.2" cy="406.95" r="1.15"/><circle cx="426.9" cy="406.95" r="1.15"/><circle cx="449.6" cy="406.95" r="1.15"/><circle cx="316.3" cy="400.76" r="1.15"/><circle cx="364.4" cy="400.76" r="1.15"/><circle cx="372.1" cy="400.76" r="1.15"/><circle cx="407.8" cy="400.76" r="1.15"/></g>
<line x1="272.7" y1="296.3" x2="274.5" y2="296.3" stroke="#3a3a3a" stroke-width="0.9" />
<line x1="272.7" y1="328.3" x2="274.5" y2="328.3" stroke="#3a3a3a" stroke-width="0.9" />
<line x1="272.7" y1="376" x2="274.5" y2="376" stroke="#3a3a3a" stroke-width="0.9" />
<line x1="272.7" y1="406.95" x2="274.5" y2="406.95" stroke="#3a3a3a" stroke-width="0.9" />
<line x1="272.7" y1="437.9" x2="274.5" y2="437.9" stroke="#3a3a3a" stroke-width="0.9" />
<line x1="318.7" y1="437.8" x2="318.7" y2="439.6" stroke="#3a3a3a" stroke-width="0.9" />
<line x1="370.5" y1="437.8" x2="370.5" y2="439.6" stroke="#3a3a3a" stroke-width="0.9" />
<line x1="422.3" y1="437.8" x2="422.3" y2="439.6" stroke="#3a3a3a" stroke-width="0.9" />
<line x1="676.5" y1="273.6" x2="676.5" y2="437.5" stroke="#4a4a4a" stroke-width="0.85" stroke-dasharray="1.1,0.9"/>
<line x1="498.4" y1="355.55" x2="684.2" y2="355.55" stroke="#4a4a4a" stroke-width="0.85" stroke-dasharray="1.1,0.9"/>
<rect x="506.6" y="354.65" width="16.4" height="2.5" rx="1.2" fill="#3154d6" fill-opacity="1.0"/>
<rect x="523" y="354.65" width="2" height="2.5" rx="1.2" fill="#3154d6" fill-opacity="0.25"/>
<rect x="525" y="354.65" width="3.9" height="2.5" rx="1.2" fill="#3154d6" fill-opacity="0.85"/>
<rect x="528.9" y="354.65" width="2" height="2.5" rx="1.2" fill="#3154d6" fill-opacity="0.3"/>
<rect x="530.9" y="354.65" width="75.5" height="2.5" rx="1.2" fill="#3154d6" fill-opacity="1.0"/>
<rect x="611" y="354.65" width="3.3" height="2.5" rx="1.2" fill="#3154d6" fill-opacity="0.85"/>
<rect x="617" y="354.65" width="2.6" height="2.5" rx="1.2" fill="#3154d6" fill-opacity="0.85"/>
<rect x="625.2" y="354.65" width="22.6" height="2.5" rx="1.2" fill="#3154d6" fill-opacity="1.0"/>
<rect x="653" y="354.65" width="2" height="2.5" rx="1.2" fill="#3154d6" fill-opacity="0.35"/>
<rect x="657.7" y="354.65" width="7.2" height="2.5" rx="1.2" fill="#3154d6" fill-opacity="0.8"/>
<rect x="673.3" y="354.65" width="1.5" height="2.5" rx="1.2" fill="#3154d6" fill-opacity="0.3"/>
<rect x="676" y="354.65" width="1.6" height="2.5" rx="1.2" fill="#3154d6" fill-opacity="1.0"/>
<line x1="498.4" y1="355.55" x2="684.2" y2="355.55" stroke="#10103a" stroke-width="0.8" stroke-dasharray="1.0,1.2" stroke-opacity="0.55"/>
<g fill="#4169e1" fill-opacity="0.32"><circle cx="570" cy="281" r="1.35"/><circle cx="563.7" cy="282.6" r="1.35"/><circle cx="558.4" cy="283.8" r="1.35"/><circle cx="558.4" cy="285.9" r="1.35"/><circle cx="550.9" cy="286.3" r="1.35"/><circle cx="559.5" cy="288.3" r="1.35"/><circle cx="565.2" cy="288.6" r="1.35"/><circle cx="552.4" cy="289.4" r="1.35"/><circle cx="554.6" cy="290.9" r="1.35"/><circle cx="553.1" cy="291.9" r="1.35"/><circle cx="556.9" cy="292.8" r="1.35"/><circle cx="562.5" cy="292.4" r="1.35"/><circle cx="564.5" cy="293.9" r="1.35"/><circle cx="566.7" cy="293.9" r="1.35"/><circle cx="565.2" cy="295.4" r="1.35"/><circle cx="563.7" cy="296.1" r="1.35"/><circle cx="567.5" cy="297.7" r="1.35"/><circle cx="566" cy="298.4" r="1.35"/><circle cx="549.4" cy="295.8" r="1.35"/><circle cx="550.1" cy="298.9" r="1.35"/><circle cx="555.4" cy="298.4" r="1.35"/><circle cx="557.7" cy="299.2" r="1.35"/><circle cx="553.1" cy="300.4" r="1.35"/><circle cx="554.6" cy="301.9" r="1.35"/><circle cx="558.4" cy="302.9" r="1.35"/><circle cx="560.4" cy="303.4" r="1.35"/><circle cx="562.2" cy="302.2" r="1.35"/><circle cx="566" cy="302.2" r="1.35"/><circle cx="551.3" cy="302.9" r="1.35"/><circle cx="567.5" cy="306" r="1.35"/><circle cx="549.8" cy="307.9" r="1.35"/><circle cx="551.9" cy="309.4" r="1.35"/><circle cx="558.4" cy="307.5" r="1.35"/><circle cx="559.9" cy="309" r="1.35"/><circle cx="561.4" cy="309.7" r="1.35"/><circle cx="559.9" cy="311.3" r="1.35"/><circle cx="561.9" cy="312" r="1.35"/><circle cx="567.9" cy="309.7" r="1.35"/><circle cx="551.6" cy="312" r="1.35"/><circle cx="558.4" cy="313.5" r="1.35"/><circle cx="560.7" cy="314.6" r="1.35"/><circle cx="550.1" cy="315.5" r="1.35"/><circle cx="553.1" cy="316.5" r="1.35"/><circle cx="559.2" cy="315.8" r="1.35"/><circle cx="561.4" cy="316.5" r="1.35"/><circle cx="569" cy="316.1" r="1.35"/><circle cx="569" cy="320" r="1.35"/><circle cx="551.6" cy="319.6" r="1.35"/><circle cx="559.2" cy="318.8" r="1.35"/><circle cx="563" cy="318" r="1.35"/><circle cx="558.9" cy="320.3" r="1.35"/><circle cx="550.1" cy="324.1" r="1.35"/><circle cx="554.6" cy="324.8" r="1.35"/><circle cx="556.1" cy="325.6" r="1.35"/><circle cx="560.4" cy="324.1" r="1.35"/><circle cx="564.5" cy="323" r="1.35"/><circle cx="567.5" cy="324.8" r="1.35"/><circle cx="560.7" cy="333.2" r="1.35"/><circle cx="569" cy="332.1" r="1.35"/><circle cx="569" cy="338.7" r="1.35"/><circle cx="565" cy="294.5" r="1.35"/><circle cx="564" cy="295" r="1.35"/><circle cx="566" cy="296.5" r="1.35"/><circle cx="560" cy="305" r="1.35"/><circle cx="559" cy="306.5" r="1.35"/><circle cx="560.5" cy="308" r="1.35"/><circle cx="558" cy="310" r="1.35"/><circle cx="561" cy="311" r="1.35"/><circle cx="559.5" cy="313" r="1.35"/><circle cx="555" cy="300.5" r="1.35"/><circle cx="556.5" cy="303.5" r="1.35"/><circle cx="552.5" cy="288" r="1.35"/><circle cx="554" cy="292" r="1.35"/><circle cx="566.5" cy="291.5" r="1.35"/><circle cx="567" cy="299.5" r="1.35"/><circle cx="562" cy="306" r="1.35"/><circle cx="557" cy="318.5" r="1.35"/><circle cx="562" cy="321.5" r="1.35"/><circle cx="552" cy="305" r="1.35"/><circle cx="566" cy="313" r="1.35"/><circle cx="560.2" cy="310.5" r="1.35"/><circle cx="559" cy="312.2" r="1.35"/><circle cx="561" cy="313.8" r="1.35"/><circle cx="564.8" cy="292.8" r="1.35"/><circle cx="565.8" cy="294" r="1.35"/><circle cx="558.8" cy="316.8" r="1.35"/><circle cx="560" cy="317.6" r="1.35"/><circle cx="574.6" cy="345.4" r="1.35"/><circle cx="575.8" cy="344.8" r="1.35"/><circle cx="576.7" cy="345.8" r="1.35"/><circle cx="575.4" cy="346.5" r="1.35"/><circle cx="574" cy="346" r="1.35"/><circle cx="577.3" cy="347.3" r="1.35"/><circle cx="577.9" cy="348.9" r="1.35"/><circle cx="577.1" cy="350" r="1.35"/><circle cx="577.7" cy="351.2" r="1.35"/><circle cx="575.8" cy="351.6" r="1.35"/><circle cx="575.1" cy="352.7" r="1.35"/><circle cx="578.1" cy="353.1" r="1.35"/><circle cx="574.8" cy="354.3" r="1.35"/><circle cx="578.5" cy="354.6" r="1.35"/><circle cx="576.5" cy="347.5" r="1.35"/><circle cx="575" cy="349" r="1.35"/><circle cx="585" cy="345" r="1.35"/><circle cx="586" cy="344.5" r="1.35"/><circle cx="587" cy="345.2" r="1.35"/><circle cx="585.5" cy="346.2" r="1.35"/><circle cx="586.6" cy="346.5" r="1.35"/><circle cx="587.8" cy="346" r="1.35"/><circle cx="585.2" cy="347.5" r="1.35"/><circle cx="586.3" cy="347.8" r="1.35"/><circle cx="587.4" cy="347.6" r="1.35"/><circle cx="586" cy="349" r="1.35"/><circle cx="587.2" cy="350.5" r="1.35"/><circle cx="586" cy="351.5" r="1.35"/><circle cx="588.2" cy="352" r="1.35"/><circle cx="585.6" cy="353" r="1.35"/><circle cx="587" cy="353.6" r="1.35"/><circle cx="588.6" cy="354.6" r="1.35"/><circle cx="584.9" cy="354.8" r="1.35"/><circle cx="586.2" cy="345.6" r="1.35"/><circle cx="585.8" cy="346.9" r="1.35"/><circle cx="569.1" cy="338.9" r="1.35"/><circle cx="551.9" cy="352.1" r="1.35"/><circle cx="570" cy="430.2" r="1.35"/><circle cx="563.7" cy="428.6" r="1.35"/><circle cx="558.4" cy="427.4" r="1.35"/><circle cx="558.4" cy="425.3" r="1.35"/><circle cx="550.9" cy="424.9" r="1.35"/><circle cx="559.5" cy="422.9" r="1.35"/><circle cx="565.2" cy="422.6" r="1.35"/><circle cx="552.4" cy="421.8" r="1.35"/><circle cx="554.6" cy="420.3" r="1.35"/><circle cx="553.1" cy="419.3" r="1.35"/><circle cx="556.9" cy="418.4" r="1.35"/><circle cx="562.5" cy="418.8" r="1.35"/><circle cx="564.5" cy="417.3" r="1.35"/><circle cx="566.7" cy="417.3" r="1.35"/><circle cx="565.2" cy="415.8" r="1.35"/><circle cx="563.7" cy="415.1" r="1.35"/><circle cx="567.5" cy="413.5" r="1.35"/><circle cx="566" cy="412.8" r="1.35"/><circle cx="549.4" cy="415.4" r="1.35"/><circle cx="550.1" cy="412.3" r="1.35"/><circle cx="555.4" cy="412.8" r="1.35"/><circle cx="557.7" cy="412" r="1.35"/><circle cx="553.1" cy="410.8" r="1.35"/><circle cx="554.6" cy="409.3" r="1.35"/><circle cx="558.4" cy="408.3" r="1.35"/><circle cx="560.4" cy="407.8" r="1.35"/><circle cx="562.2" cy="409" r="1.35"/><circle cx="566" cy="409" r="1.35"/><circle cx="551.3" cy="408.3" r="1.35"/><circle cx="567.5" cy="405.2" r="1.35"/><circle cx="549.8" cy="403.3" r="1.35"/><circle cx="551.9" cy="401.8" r="1.35"/><circle cx="558.4" cy="403.7" r="1.35"/><circle cx="559.9" cy="402.2" r="1.35"/><circle cx="561.4" cy="401.5" r="1.35"/><circle cx="559.9" cy="399.9" r="1.35"/><circle cx="561.9" cy="399.2" r="1.35"/><circle cx="567.9" cy="401.5" r="1.35"/><circle cx="551.6" cy="399.2" r="1.35"/><circle cx="558.4" cy="397.7" r="1.35"/><circle cx="560.7" cy="396.6" r="1.35"/><circle cx="550.1" cy="395.7" r="1.35"/><circle cx="553.1" cy="394.7" r="1.35"/><circle cx="559.2" cy="395.4" r="1.35"/><circle cx="561.4" cy="394.7" r="1.35"/><circle cx="569" cy="395.1" r="1.35"/><circle cx="569" cy="391.2" r="1.35"/><circle cx="551.6" cy="391.6" r="1.35"/><circle cx="559.2" cy="392.4" r="1.35"/><circle cx="563" cy="393.2" r="1.35"/><circle cx="558.9" cy="390.9" r="1.35"/><circle cx="550.1" cy="387.1" r="1.35"/><circle cx="554.6" cy="386.4" r="1.35"/><circle cx="556.1" cy="385.6" r="1.35"/><circle cx="560.4" cy="387.1" r="1.35"/><circle cx="564.5" cy="388.2" r="1.35"/><circle cx="567.5" cy="386.4" r="1.35"/><circle cx="560.7" cy="378" r="1.35"/><circle cx="569" cy="379.1" r="1.35"/><circle cx="569" cy="372.5" r="1.35"/><circle cx="565" cy="416.7" r="1.35"/><circle cx="564" cy="416.2" r="1.35"/><circle cx="566" cy="414.7" r="1.35"/><circle cx="560" cy="406.2" r="1.35"/><circle cx="559" cy="404.7" r="1.35"/><circle cx="560.5" cy="403.2" r="1.35"/><circle cx="558" cy="401.2" r="1.35"/><circle cx="561" cy="400.2" r="1.35"/><circle cx="559.5" cy="398.2" r="1.35"/><circle cx="555" cy="410.7" r="1.35"/><circle cx="556.5" cy="407.7" r="1.35"/><circle cx="552.5" cy="423.2" r="1.35"/><circle cx="554" cy="419.2" r="1.35"/><circle cx="566.5" cy="419.7" r="1.35"/><circle cx="567" cy="411.7" r="1.35"/><circle cx="562" cy="405.2" r="1.35"/><circle cx="557" cy="392.7" r="1.35"/><circle cx="562" cy="389.7" r="1.35"/><circle cx="552" cy="406.2" r="1.35"/><circle cx="566" cy="398.2" r="1.35"/><circle cx="560.2" cy="400.7" r="1.35"/><circle cx="559" cy="399" r="1.35"/><circle cx="561" cy="397.4" r="1.35"/><circle cx="564.8" cy="418.4" r="1.35"/><circle cx="565.8" cy="417.2" r="1.35"/><circle cx="558.8" cy="394.4" r="1.35"/><circle cx="560" cy="393.6" r="1.35"/><circle cx="574.6" cy="365.8" r="1.35"/><circle cx="575.8" cy="366.4" r="1.35"/><circle cx="576.7" cy="365.4" r="1.35"/><circle cx="575.4" cy="364.7" r="1.35"/><circle cx="574" cy="365.2" r="1.35"/><circle cx="577.3" cy="363.9" r="1.35"/><circle cx="577.9" cy="362.3" r="1.35"/><circle cx="577.1" cy="361.2" r="1.35"/><circle cx="577.7" cy="360" r="1.35"/><circle cx="575.8" cy="359.6" r="1.35"/><circle cx="575.1" cy="358.5" r="1.35"/><circle cx="578.1" cy="358.1" r="1.35"/><circle cx="574.8" cy="356.9" r="1.35"/><circle cx="578.5" cy="356.6" r="1.35"/><circle cx="576.5" cy="363.7" r="1.35"/><circle cx="575" cy="362.2" r="1.35"/><circle cx="585" cy="366.2" r="1.35"/><circle cx="586" cy="366.7" r="1.35"/><circle cx="587" cy="366" r="1.35"/><circle cx="585.5" cy="365" r="1.35"/><circle cx="586.6" cy="364.7" r="1.35"/><circle cx="587.8" cy="365.2" r="1.35"/><circle cx="585.2" cy="363.7" r="1.35"/><circle cx="586.3" cy="363.4" r="1.35"/><circle cx="587.4" cy="363.6" r="1.35"/><circle cx="586" cy="362.2" r="1.35"/><circle cx="587.2" cy="360.7" r="1.35"/><circle cx="586" cy="359.7" r="1.35"/><circle cx="588.2" cy="359.2" r="1.35"/><circle cx="585.6" cy="358.2" r="1.35"/><circle cx="587" cy="357.6" r="1.35"/><circle cx="588.6" cy="356.6" r="1.35"/><circle cx="584.9" cy="356.4" r="1.35"/><circle cx="586.2" cy="365.6" r="1.35"/><circle cx="585.8" cy="364.3" r="1.35"/><circle cx="569.1" cy="372.3" r="1.35"/><circle cx="551.9" cy="359.1" r="1.35"/></g>
<line x1="498.4" y1="273.6" x2="684.2" y2="273.6" stroke="#838383" stroke-width="1" />
<line x1="498.4" y1="273.6" x2="498.4" y2="437.5" stroke="#838383" stroke-width="1" />
<line x1="498.4" y1="437.5" x2="684.2" y2="437.5" stroke="#838383" stroke-width="1" />
<line x1="684.2" y1="273.6" x2="684.2" y2="437.5" stroke="#d0d0d0" stroke-width="1" />
<line x1="496.6" y1="295.95" x2="498.4" y2="295.95" stroke="#3a3a3a" stroke-width="0.9" />
<line x1="496.6" y1="325.75" x2="498.4" y2="325.75" stroke="#3a3a3a" stroke-width="0.9" />
<line x1="496.6" y1="355.55" x2="498.4" y2="355.55" stroke="#3a3a3a" stroke-width="0.9" />
<line x1="496.6" y1="385.35" x2="498.4" y2="385.35" stroke="#3a3a3a" stroke-width="0.9" />
<line x1="496.6" y1="415.15" x2="498.4" y2="415.15" stroke="#3a3a3a" stroke-width="0.9" />
<line x1="507.6" y1="437.5" x2="507.6" y2="439.3" stroke="#3a3a3a" stroke-width="0.9" />
<line x1="563.9" y1="437.5" x2="563.9" y2="439.3" stroke="#3a3a3a" stroke-width="0.9" />
<line x1="620.2" y1="437.5" x2="620.2" y2="439.3" stroke="#3a3a3a" stroke-width="0.9" />
<line x1="676.5" y1="437.5" x2="676.5" y2="439.3" stroke="#3a3a3a" stroke-width="0.9" /></g><g id="txt"><text id="ya_FIN-AU" x="16.80" y="41.84" font-size="9.82" textLength="31.09" lengthAdjust="spacingAndGlyphs" fill="#333333">FIN-AU</text>
<text id="ya_FIN-TTY" x="10.33" y="64.87" font-size="9.35" textLength="37.48" lengthAdjust="spacingAndGlyphs" fill="#333333">FIN-TTY</text>
<text id="ya_NOR-NTUN" x="-1.30" y="88.57" font-size="10.34" textLength="48.74" lengthAdjust="spacingAndGlyphs" fill="#333333">NOR-NTUN</text>
<text id="ya_SWE-CTH" x="5.59" y="111.74" font-size="10.20" textLength="42.49" lengthAdjust="spacingAndGlyphs" fill="#333333">SWE-CTH</text>
<text id="ya_SWE-KTH" x="5.55" y="136.17" font-size="9.92" textLength="42.58" lengthAdjust="spacingAndGlyphs" fill="#333333">SWE-KTH</text>
<text id="ya_SWE-LTH" x="7.30" y="158.98" font-size="9.14" textLength="40.47" lengthAdjust="spacingAndGlyphs" fill="#333333">SWE-LTH</text>
<text id="ya_SWE-LTU" x="7.38" y="182.72" font-size="10.33" textLength="40.53" lengthAdjust="spacingAndGlyphs" fill="#333333">SWE-LTU</text>
<text id="xa_FIN-AU" transform="translate(63.78,224.42) rotate(-90)" x="0" y="0" font-size="9.50" textLength="30.92" lengthAdjust="spacingAndGlyphs" fill="#333333">FIN-AU</text>
<text id="xa_FIN-TTY" transform="translate(85.20,231.44) rotate(-90)" x="0" y="0" font-size="9.20" textLength="37.90" lengthAdjust="spacingAndGlyphs" fill="#333333">FIN-TTY</text>
<text id="xa_NOR-NTUN" transform="translate(107.00,242.05) rotate(-90)" x="0" y="0" font-size="9.45" textLength="48.30" lengthAdjust="spacingAndGlyphs" fill="#333333">NOR-NTUN</text>
<text id="xa_SWE-CTH" transform="translate(127.70,236.28) rotate(-90)" x="0" y="0" font-size="9.83" textLength="42.77" lengthAdjust="spacingAndGlyphs" fill="#333333">SWE-CTH</text>
<text id="xa_SWE-KTH" transform="translate(148.78,236.33) rotate(-90)" x="0" y="0" font-size="8.72" textLength="42.69" lengthAdjust="spacingAndGlyphs" fill="#333333">SWE-KTH</text>
<text id="xa_SWE-LTH" transform="translate(170.64,234.39) rotate(-90)" x="0" y="0" font-size="9.67" textLength="40.64" lengthAdjust="spacingAndGlyphs" fill="#333333">SWE-LTH</text>
<text id="xa_SWE-LTU" transform="translate(192.13,234.15) rotate(-90)" x="0" y="0" font-size="9.11" textLength="40.58" lengthAdjust="spacingAndGlyphs" fill="#333333">SWE-LTU</text>
<text id="cb20" x="219.75" y="70.75" font-size="12.44" textLength="10.70" lengthAdjust="spacingAndGlyphs" fill="#333333">20</text>
<text id="cb0" x="219.67" y="112.51" font-size="12.50" textLength="6.09" lengthAdjust="spacingAndGlyphs" fill="#333333">0</text>
<text id="cbm20" x="219.96" y="141.90" font-size="11.79" textLength="19.19" lengthAdjust="spacingAndGlyphs" fill="#333333">&#8722;20</text>
<text id="cbm40" x="220.00" y="170.07" font-size="12.75" textLength="19.24" lengthAdjust="spacingAndGlyphs" fill="#333333">&#8722;40</text>
<text id="cbA" x="206.26" y="17.85" font-size="11.26" font-style="italic" textLength="6.54" lengthAdjust="spacingAndGlyphs" fill="#333333">A</text>
<text id="cbeff" x="213.46" y="15.03" font-size="7.22" textLength="6.80" lengthAdjust="spacingAndGlyphs" fill="#444">eff</text>
<text id="cbij" x="213.57" y="21.90" font-size="7.27" font-style="italic" textLength="5.44" lengthAdjust="spacingAndGlyphs" fill="#444">ij</text>
<text id="La" x="45.01" y="16.10" font-size="22.34" font-style="italic" textLength="13.30" lengthAdjust="spacingAndGlyphs" fill="#000">a</text>
<text id="Lb" x="275.16" y="16.05" font-size="24.00" font-style="italic" textLength="10.04" lengthAdjust="spacingAndGlyphs" fill="#000">b</text>
<text id="Lc" x="495.06" y="14.73" font-size="23.28" font-style="italic" textLength="10.48" lengthAdjust="spacingAndGlyphs" fill="#000">c</text>
<text id="Ld" x="48.08" y="262.05" font-size="24.05" font-style="italic" textLength="12.46" lengthAdjust="spacingAndGlyphs" fill="#000">d</text>
<text id="Le" x="274.88" y="261.68" font-size="23.86" font-style="italic" textLength="11.44" lengthAdjust="spacingAndGlyphs" fill="#000">e</text>
<text id="Lf" x="494.50" y="263.16" font-size="22.58" font-style="italic" textLength="8.65" lengthAdjust="spacingAndGlyphs" fill="#000">f</text>
<text id="bm50" x="286.04" y="201.96" font-size="12.55" textLength="19.24" lengthAdjust="spacingAndGlyphs" fill="#333333">&#8722;50</text>
<text id="bm25" x="330.32" y="202.15" font-size="11.76" textLength="19.17" lengthAdjust="spacingAndGlyphs" fill="#333333">&#8722;25</text>
<text id="b0" x="381.06" y="201.76" font-size="12.68" textLength="5.49" lengthAdjust="spacingAndGlyphs" fill="#333333">0</text>
<text id="b25" x="422.55" y="202.10" font-size="12.18" textLength="10.62" lengthAdjust="spacingAndGlyphs" fill="#333333">25</text>
<text id="bxA" x="360.83" y="214.92" font-size="12.37" font-style="italic" textLength="6.72" lengthAdjust="spacingAndGlyphs" fill="#333333">A</text>
<text id="bxeff" x="369.12" y="209.95" font-size="6.73" textLength="6.63" lengthAdjust="spacingAndGlyphs" fill="#444">eff</text>
<text id="bxij" x="368.24" y="218.48" font-size="7.47" font-style="italic" textLength="6.43" lengthAdjust="spacingAndGlyphs" fill="#444">ij</text>
<text id="bPDF" transform="translate(270.65,119.94) rotate(-90)" x="0" y="0" font-size="12.28" textLength="22.12" lengthAdjust="spacingAndGlyphs" fill="#333333">PDF</text>
<text id="lgA1" x="422.48" y="40.74" font-size="7.92" font-style="italic" textLength="6.07" lengthAdjust="spacingAndGlyphs" fill="#444">A</text>
<text id="lgeff1" x="428.40" y="37.96" font-size="5.48" textLength="5.81" lengthAdjust="spacingAndGlyphs" fill="#555">eff</text>
<text id="lgii" x="428.39" y="42.38" font-size="4.52" font-style="italic" textLength="3.49" lengthAdjust="spacingAndGlyphs" fill="#555">ii</text>
<text id="lgA2" x="422.83" y="53.98" font-size="7.48" font-style="italic" textLength="5.41" lengthAdjust="spacingAndGlyphs" fill="#444">A</text>
<text id="lgeff2" x="428.59" y="51.16" font-size="6.94" textLength="5.63" lengthAdjust="spacingAndGlyphs" fill="#555">eff</text>
<text id="lgij" x="428.29" y="56.30" font-size="7.06" font-style="italic" textLength="4.35" lengthAdjust="spacingAndGlyphs" fill="#555">ij</text>
<text id="lgbar" x="434.96" y="53.85" font-size="8.48" fill="#444">|</text>
<text id="lgi" x="435.94" y="54.73" font-size="7.58" font-style="italic" textLength="4.30" lengthAdjust="spacingAndGlyphs" fill="#444">i</text>
<text id="lgne" x="441.83" y="57.87" font-size="17.62" textLength="5.87" lengthAdjust="spacingAndGlyphs" fill="#444">&#8800;</text>
<text id="lgj" x="450.74" y="54.34" font-size="9.04" font-style="italic" textLength="4.02" lengthAdjust="spacingAndGlyphs" fill="#444">j</text>
<text id="ct10_0" x="483.72" y="29.91" font-size="8.59" textLength="7.84" lengthAdjust="spacingAndGlyphs" fill="#333333">10</text>
<text id="ctsup_0" x="492.53" y="26.25" font-size="7.00" textLength="3.21" lengthAdjust="spacingAndGlyphs" fill="#1a1a1a">0</text>
<text id="ct10_1" x="478.69" y="44.91" font-size="9.38" textLength="8.27" lengthAdjust="spacingAndGlyphs" fill="#333333">10</text>
<text id="ctsup_1" x="487.71" y="40.85" font-size="6.50" textLength="5.04" lengthAdjust="spacingAndGlyphs" fill="#1a1a1a">&#8722;</text>
<text id="ctsupd_1" x="493.71" y="40.40" font-size="6.88" textLength="1.23" lengthAdjust="spacingAndGlyphs" fill="#1a1a1a">1</text>
<text id="ct10_2" x="478.73" y="59.37" font-size="8.97" textLength="8.17" lengthAdjust="spacingAndGlyphs" fill="#333333">10</text>
<text id="ctsup_2" x="487.54" y="55.50" font-size="6.50" textLength="5.27" lengthAdjust="spacingAndGlyphs" fill="#1a1a1a">&#8722;</text>
<text id="ctsupd_2" x="492.45" y="54.90" font-size="5.71" textLength="3.71" lengthAdjust="spacingAndGlyphs" fill="#1a1a1a">2</text>
<text id="ct10_3" x="478.66" y="73.98" font-size="10.04" textLength="7.96" lengthAdjust="spacingAndGlyphs" fill="#333333">10</text>
<text id="ctsup_3" x="487.71" y="70.65" font-size="6.50" textLength="5.04" lengthAdjust="spacingAndGlyphs" fill="#1a1a1a">&#8722;</text>
<text id="ctsupd_3" x="491.90" y="70.26" font-size="6.63" textLength="3.61" lengthAdjust="spacingAndGlyphs" fill="#1a1a1a">3</text>
<text id="ct10_4" x="478.54" y="88.17" font-size="8.98" textLength="8.28" lengthAdjust="spacingAndGlyphs" fill="#333333">10</text>
<text id="ctsup_4" x="487.71" y="84.65" font-size="6.50" textLength="5.04" lengthAdjust="spacingAndGlyphs" fill="#1a1a1a">&#8722;</text>
<text id="ctsupd_4" x="492.39" y="84.36" font-size="6.33" textLength="3.31" lengthAdjust="spacingAndGlyphs" fill="#1a1a1a">4</text>
<text id="cb10_0" x="483.90" y="120.41" font-size="8.56" textLength="7.87" lengthAdjust="spacingAndGlyphs" fill="#333333">10</text>
<text id="cbsup_0" x="492.78" y="116.65" font-size="5.35" textLength="2.88" lengthAdjust="spacingAndGlyphs" fill="#1a1a1a">0</text>
<text id="cb10_1" x="478.73" y="132.37" font-size="8.97" textLength="8.17" lengthAdjust="spacingAndGlyphs" fill="#333333">10</text>
<text id="cbsup_1" x="487.54" y="128.50" font-size="6.50" textLength="5.27" lengthAdjust="spacingAndGlyphs" fill="#1a1a1a">&#8722;</text>
<text id="cbsupd_1" x="493.26" y="128.15" font-size="5.97" textLength="1.66" lengthAdjust="spacingAndGlyphs" fill="#1a1a1a">1</text>
<text id="cb10_2" x="478.76" y="143.90" font-size="9.23" textLength="7.77" lengthAdjust="spacingAndGlyphs" fill="#333333">10</text>
<text id="cbsup_2" x="487.54" y="140.80" font-size="6.50" textLength="5.27" lengthAdjust="spacingAndGlyphs" fill="#1a1a1a">&#8722;</text>
<text id="cbsupd_2" x="492.45" y="140.20" font-size="5.71" textLength="3.71" lengthAdjust="spacingAndGlyphs" fill="#1a1a1a">2</text>
<text id="cb10_3" x="478.54" y="156.17" font-size="8.98" textLength="8.28" lengthAdjust="spacingAndGlyphs" fill="#333333">10</text>
<text id="cbsup_3" x="487.71" y="152.65" font-size="6.50" textLength="5.04" lengthAdjust="spacingAndGlyphs" fill="#1a1a1a">&#8722;</text>
<text id="cbsupd_3" x="491.61" y="152.34" font-size="7.03" textLength="4.07" lengthAdjust="spacingAndGlyphs" fill="#1a1a1a">3</text>
<text id="cb10_4" x="478.64" y="169.03" font-size="9.73" textLength="7.94" lengthAdjust="spacingAndGlyphs" fill="#333333">10</text>
<text id="cbsup_4" x="487.71" y="165.05" font-size="6.50" textLength="5.04" lengthAdjust="spacingAndGlyphs" fill="#1a1a1a">&#8722;</text>
<text id="cbsupd_4" x="492.55" y="165.18" font-size="6.48" textLength="3.30" lengthAdjust="spacingAndGlyphs" fill="#1a1a1a">4</text>
<text id="cPDF1" transform="translate(474.70,75.02) rotate(-90)" x="0" y="0" font-size="11.83" textLength="22.67" lengthAdjust="spacingAndGlyphs" fill="#333333">PDF</text>
<text id="cPDF2" transform="translate(474.70,165.02) rotate(-90)" x="0" y="0" font-size="11.83" textLength="22.67" lengthAdjust="spacingAndGlyphs" fill="#333333">PDF</text>
<text id="cC" x="582.55" y="110.96" font-size="11.84" font-style="italic" textLength="8.27" lengthAdjust="spacingAndGlyphs" fill="#333333">C</text>
<text id="cijk" x="590.16" y="113.33" font-size="8.91" font-style="italic" textLength="10.74" lengthAdjust="spacingAndGlyphs" fill="#444">ijk</text>
<text id="cm400" x="496.35" y="201.69" font-size="11.61" textLength="24.76" lengthAdjust="spacingAndGlyphs" fill="#333333">&#8722;400</text>
<text id="cm200" x="534.37" y="201.55" font-size="11.50" textLength="24.06" lengthAdjust="spacingAndGlyphs" fill="#333333">&#8722;200</text>
<text id="c0" x="581.92" y="201.69" font-size="12.44" textLength="5.13" lengthAdjust="spacingAndGlyphs" fill="#333333">0</text>
<text id="c200" x="614.16" y="201.70" font-size="11.99" textLength="15.93" lengthAdjust="spacingAndGlyphs" fill="#333333">200</text>
<text id="c400" x="652.21" y="201.99" font-size="12.12" textLength="15.74" lengthAdjust="spacingAndGlyphs" fill="#333333">400</text>
<text id="cE" x="581.95" y="213.11" font-size="11.43" font-style="italic" textLength="8.58" lengthAdjust="spacingAndGlyphs" fill="#333333">E</text>
<text id="cijkl" x="589.64" y="214.57" font-size="8.24" font-style="italic" textLength="12.10" lengthAdjust="spacingAndGlyphs" fill="#444">ijkl</text>
<text id="d0" x="43.74" y="285.04" font-size="8.55" textLength="4.24" lengthAdjust="spacingAndGlyphs" fill="#333333">0</text>
<text id="dm005" x="29.74" y="303.80" font-size="9.34" textLength="18.38" lengthAdjust="spacingAndGlyphs" fill="#333333">-0.05</text>
<text id="dm090" x="25.58" y="328.52" font-size="8.89" textLength="22.35" lengthAdjust="spacingAndGlyphs" fill="#333333">&#8722;0.90</text>
<text id="dm095" x="25.47" y="347.74" font-size="9.08" textLength="22.27" lengthAdjust="spacingAndGlyphs" fill="#333333">&#8722;0.95</text>
<text id="dRemax" transform="translate(21.76,354.79) rotate(-90)" x="0" y="0" font-size="9.73" textLength="35.04" lengthAdjust="spacingAndGlyphs" fill="#333333">Re(<tspan font-style="italic">&#955;<tspan font-size="0.78em" dy="0.2em">max</tspan></tspan><tspan dy="-0.2em">)</tspan></text>
<text id="dm40" x="31.90" y="376.60" font-size="10.88" textLength="16.65" lengthAdjust="spacingAndGlyphs" fill="#333333">&#8722;40</text>
<text id="dm50" x="32.51" y="406.92" font-size="10.46" textLength="15.76" lengthAdjust="spacingAndGlyphs" fill="#333333">&#8722;50</text>
<text id="dm60" x="31.87" y="437.82" font-size="11.25" textLength="16.60" lengthAdjust="spacingAndGlyphs" fill="#333333">&#8722;60</text>
<text id="dRemin" transform="translate(21.08,418.31) rotate(-90)" x="0" y="0" font-size="9.18" textLength="34.56" lengthAdjust="spacingAndGlyphs" fill="#333333">Re(<tspan font-style="italic">&#955;<tspan font-size="0.78em" dy="0.2em">min</tspan></tspan><tspan dy="-0.2em">)</tspan></text>
<text id="dx5" x="66.65" y="447.89" font-size="9.91" textLength="5.15" lengthAdjust="spacingAndGlyphs" fill="#333333">5</text>
<text id="dx10" x="89.68" y="448.10" font-size="9.90" textLength="9.30" lengthAdjust="spacingAndGlyphs" fill="#333333">10</text>
<text id="dx15" x="115.36" y="448.12" font-size="10.04" textLength="9.50" lengthAdjust="spacingAndGlyphs" fill="#333333">15</text>
<text id="dx20" x="142.57" y="447.70" font-size="9.40" textLength="7.69" lengthAdjust="spacingAndGlyphs" fill="#333333">20</text>
<text id="dx25" x="167.75" y="448.10" font-size="9.81" textLength="8.48" lengthAdjust="spacingAndGlyphs" fill="#333333">25</text>
<text id="dx30" x="193.34" y="447.60" font-size="9.39" textLength="8.58" lengthAdjust="spacingAndGlyphs" fill="#333333">30</text>
<text id="dx35" x="219.18" y="448.18" font-size="9.55" textLength="8.45" lengthAdjust="spacingAndGlyphs" fill="#333333">35</text>
<text id="dTime" x="125.23" y="459.06" font-size="10.68" textLength="23.86" lengthAdjust="spacingAndGlyphs" fill="#333333">Time</text>
<text id="dTimeh" x="149.24" y="460.42" font-size="12.29" textLength="13.02" lengthAdjust="spacingAndGlyphs" fill="#333333">(h)</text>
<text id="e150" x="255.45" y="300.08" font-size="11.00" textLength="16.33" lengthAdjust="spacingAndGlyphs" fill="#333333">150</text>
<text id="e100" x="255.52" y="332.95" font-size="11.57" textLength="16.22" lengthAdjust="spacingAndGlyphs" fill="#333333">100</text>
<text id="e10" x="260.72" y="379.65" font-size="11.41" textLength="11.17" lengthAdjust="spacingAndGlyphs" fill="#333333">10</text>
<text id="e5" x="266.35" y="410.98" font-size="11.97" textLength="5.52" lengthAdjust="spacingAndGlyphs" fill="#333333">5</text>
<text id="e0" x="266.63" y="442.98" font-size="13.20" textLength="5.52" lengthAdjust="spacingAndGlyphs" fill="#333333">0</text>
<text id="ex10" x="313.16" y="448.90" font-size="12.37" textLength="11.36" lengthAdjust="spacingAndGlyphs" fill="#333333">10</text>
<text id="ex20" x="364.91" y="448.85" font-size="12.17" textLength="10.44" lengthAdjust="spacingAndGlyphs" fill="#333333">20</text>
<text id="ex30" x="417.03" y="449.00" font-size="11.90" textLength="10.36" lengthAdjust="spacingAndGlyphs" fill="#333333">30</text>
<text id="eTime" x="349.13" y="460.06" font-size="10.68" textLength="23.86" lengthAdjust="spacingAndGlyphs" fill="#333333">Time</text>
<text id="eTimeh" x="373.14" y="461.42" font-size="12.29" textLength="13.02" lengthAdjust="spacingAndGlyphs" fill="#333333">(h)</text>
<text id="f4" x="490.58" y="300.37" font-size="11.69" textLength="5.17" lengthAdjust="spacingAndGlyphs" fill="#333333">4</text>
<text id="f2" x="490.23" y="329.55" font-size="12.64" textLength="5.89" lengthAdjust="spacingAndGlyphs" fill="#333333">2</text>
<text id="f0" x="490.62" y="359.90" font-size="11.49" textLength="4.92" lengthAdjust="spacingAndGlyphs" fill="#333333">0</text>
<text id="fm2" x="481.24" y="389.70" font-size="11.47" textLength="14.87" lengthAdjust="spacingAndGlyphs" fill="#333333">&#8722;2</text>
<text id="fm4" x="481.88" y="419.87" font-size="12.01" textLength="13.80" lengthAdjust="spacingAndGlyphs" fill="#333333">&#8722;4</text>
<text id="fxm60" x="498.52" y="448.74" font-size="11.51" textLength="19.03" lengthAdjust="spacingAndGlyphs" fill="#333333">&#8722;60</text>
<text id="fxm40" x="554.33" y="448.58" font-size="11.50" textLength="18.73" lengthAdjust="spacingAndGlyphs" fill="#333333">&#8722;40</text>
<text id="fxm20" x="610.62" y="449.15" font-size="11.94" textLength="19.29" lengthAdjust="spacingAndGlyphs" fill="#333333">&#8722;20</text>
<text id="fx0" x="673.46" y="448.69" font-size="11.94" textLength="5.80" lengthAdjust="spacingAndGlyphs" fill="#333333">0</text>
<text id="fRe" x="578.43" y="460.05" font-size="10.67" textLength="12.56" lengthAdjust="spacingAndGlyphs" fill="#333333">Re</text>
<text id="fReL" x="591.26" y="462.70" font-size="14.91" textLength="13.51" lengthAdjust="spacingAndGlyphs" fill="#333333">(<tspan font-style="italic">&#955;</tspan>)</text>
<text id="fIm" transform="translate(482.83,369.74) rotate(-90)" x="0" y="0" font-size="12.37" textLength="13.08" lengthAdjust="spacingAndGlyphs" fill="#333333">Im</text>
<text id="fImL" transform="translate(483.89,356.57) rotate(-90)" x="0" y="0" font-size="14.82" textLength="13.91" lengthAdjust="spacingAndGlyphs" fill="#333333">(<tspan font-style="italic">&#955;</tspan>)</text></g></svg></body></html>
